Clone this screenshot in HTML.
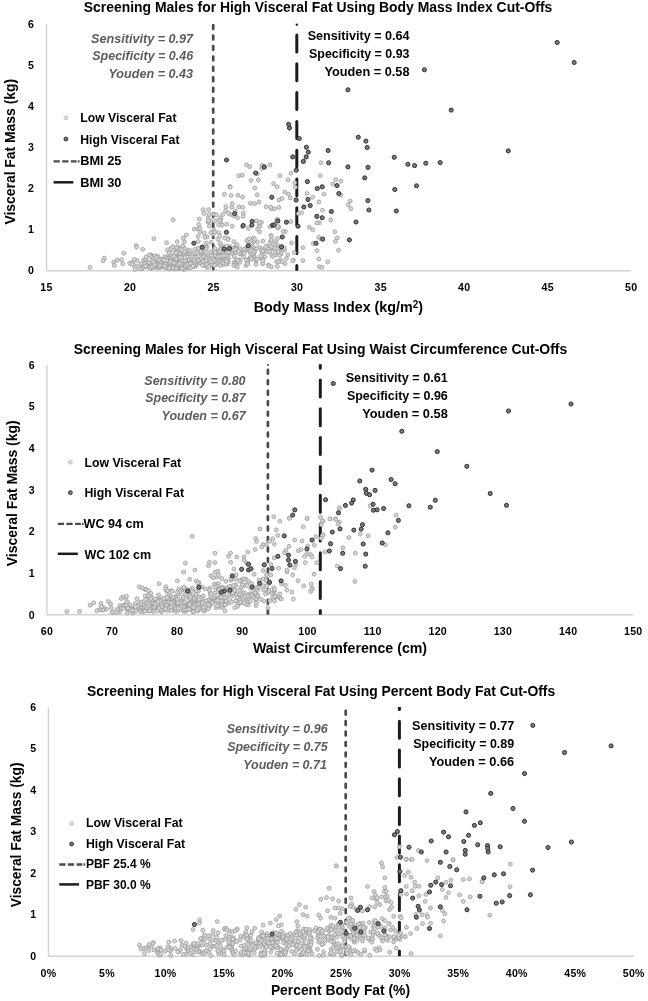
<!DOCTYPE html>
<html lang="en">
<head>
<meta charset="utf-8">
<title>Screening Males for High Visceral Fat</title>
<style>
html,body{margin:0;padding:0;background:#fff;}
body{width:648px;height:1001px;overflow:hidden;}
svg{display:block;will-change:transform;}
svg text{font-family:"Liberation Sans", sans-serif;font-weight:bold;}
</style>
</head>
<body>
<svg width="648" height="1001" viewBox="0 0 648 1001">
<rect width="648" height="1001" fill="#fff"/>
<g id="panel1">
<line x1="46.5" y1="270.7" x2="630.8" y2="270.7" stroke="#d2d2d2" stroke-width="1.4"/>
<line x1="46.5" y1="24.2" x2="46.5" y2="270.7" stroke="#d2d2d2" stroke-width="1.4"/>
<clipPath id="clip1"><rect x="40" y="23.80" width="600" height="246.90"/></clipPath>
<g clip-path="url(#clip1)" fill="none" stroke-linecap="round">
<path d="M213.2 -6.20V-2.40 M213.2 4.25V8.05 M213.2 14.70V18.50 M213.2 25.15V28.95 M213.2 35.60V39.40 M213.2 46.05V49.85 M213.2 56.50V60.30 M213.2 66.95V70.75 M213.2 77.40V81.20 M213.2 87.85V91.65 M213.2 98.30V102.10 M213.2 108.75V112.55 M213.2 119.20V123.00 M213.2 129.65V133.45 M213.2 140.10V143.90 M213.2 150.55V154.35 M213.2 161.00V164.80 M213.2 171.45V175.25 M213.2 181.90V185.70 M213.2 192.35V196.15 M213.2 202.80V206.60 M213.2 213.25V217.05 M213.2 223.70V227.50 M213.2 234.15V237.95 M213.2 244.60V248.40 M213.2 255.05V258.85 M213.2 265.50V269.30 M213.2 275.95V279.75" stroke="#494949" stroke-width="2.7"/>
<path d="M296.8 -22.60V-5.60 M296.8 6.20V23.20 M296.8 35.00V52.00 M296.8 63.80V80.80 M296.8 92.60V109.60 M296.8 121.40V138.40 M296.8 150.20V167.20 M296.8 179.00V196.00 M296.8 207.80V224.80 M296.8 236.60V253.60 M296.8 265.40V282.40 M296.8 294.20V311.20" stroke="#1c1c1c" stroke-width="3.0"/>
</g>
<circle cx="296.8" cy="24.8" r="1.1" fill="#1c1c1c"/>
<g fill="#d6d6d6" stroke="#9c9c9c" stroke-width="0.8">
<circle cx="287.8" cy="254.6" r="1.95"/><circle cx="174.6" cy="269.0" r="1.95"/><circle cx="185.0" cy="263.2" r="1.95"/><circle cx="173.5" cy="260.6" r="1.95"/><circle cx="209.9" cy="265.0" r="1.95"/><circle cx="165.9" cy="264.7" r="1.95"/><circle cx="225.6" cy="253.6" r="1.95"/><circle cx="156.8" cy="266.9" r="1.95"/><circle cx="228.4" cy="238.7" r="1.95"/><circle cx="184.5" cy="264.7" r="1.95"/><circle cx="249.4" cy="258.7" r="1.95"/><circle cx="227.7" cy="239.3" r="1.95"/><circle cx="222.1" cy="258.3" r="1.95"/><circle cx="228.1" cy="262.3" r="1.95"/><circle cx="181.3" cy="264.4" r="1.95"/><circle cx="180.7" cy="264.1" r="1.95"/><circle cx="181.1" cy="263.6" r="1.95"/><circle cx="190.4" cy="260.9" r="1.95"/><circle cx="202.5" cy="246.7" r="1.95"/><circle cx="151.6" cy="255.1" r="1.95"/><circle cx="180.0" cy="266.5" r="1.95"/><circle cx="181.4" cy="261.3" r="1.95"/><circle cx="247.8" cy="263.1" r="1.95"/><circle cx="197.9" cy="260.0" r="1.95"/><circle cx="148.6" cy="267.3" r="1.95"/><circle cx="220.4" cy="252.9" r="1.95"/><circle cx="249.0" cy="250.8" r="1.95"/><circle cx="208.3" cy="259.1" r="1.95"/><circle cx="256.1" cy="261.5" r="1.95"/><circle cx="182.1" cy="259.5" r="1.95"/><circle cx="150.9" cy="255.0" r="1.95"/><circle cx="167.9" cy="263.0" r="1.95"/><circle cx="167.2" cy="264.9" r="1.95"/><circle cx="276.7" cy="261.5" r="1.95"/><circle cx="175.8" cy="259.1" r="1.95"/><circle cx="211.9" cy="254.9" r="1.95"/><circle cx="206.9" cy="246.8" r="1.95"/><circle cx="244.7" cy="250.7" r="1.95"/><circle cx="170.3" cy="265.4" r="1.95"/><circle cx="143.7" cy="260.5" r="1.95"/><circle cx="145.6" cy="259.1" r="1.95"/><circle cx="293.4" cy="260.2" r="1.95"/><circle cx="170.3" cy="264.5" r="1.95"/><circle cx="233.9" cy="263.0" r="1.95"/><circle cx="182.3" cy="264.2" r="1.95"/><circle cx="179.7" cy="251.7" r="1.95"/><circle cx="164.2" cy="262.5" r="1.95"/><circle cx="201.1" cy="253.6" r="1.95"/><circle cx="157.7" cy="256.1" r="1.95"/><circle cx="210.7" cy="252.2" r="1.95"/><circle cx="189.4" cy="267.2" r="1.95"/><circle cx="171.1" cy="257.2" r="1.95"/><circle cx="187.3" cy="261.7" r="1.95"/><circle cx="290.2" cy="198.0" r="1.95"/><circle cx="184.4" cy="241.8" r="1.95"/><circle cx="141.9" cy="268.7" r="1.95"/><circle cx="236.0" cy="259.5" r="1.95"/><circle cx="219.1" cy="254.8" r="1.95"/><circle cx="183.2" cy="257.2" r="1.95"/><circle cx="194.0" cy="266.8" r="1.95"/><circle cx="198.0" cy="259.5" r="1.95"/><circle cx="292.6" cy="260.7" r="1.95"/><circle cx="186.2" cy="263.6" r="1.95"/><circle cx="182.3" cy="246.5" r="1.95"/><circle cx="207.4" cy="262.6" r="1.95"/><circle cx="194.2" cy="255.3" r="1.95"/><circle cx="163.6" cy="264.0" r="1.95"/><circle cx="275.6" cy="241.5" r="1.95"/><circle cx="184.2" cy="263.9" r="1.95"/><circle cx="181.8" cy="267.2" r="1.95"/><circle cx="240.5" cy="254.0" r="1.95"/><circle cx="193.3" cy="266.3" r="1.95"/><circle cx="169.6" cy="259.6" r="1.95"/><circle cx="200.3" cy="263.2" r="1.95"/><circle cx="214.8" cy="250.9" r="1.95"/><circle cx="170.5" cy="264.7" r="1.95"/><circle cx="166.3" cy="266.7" r="1.95"/><circle cx="231.9" cy="253.4" r="1.95"/><circle cx="205.0" cy="265.5" r="1.95"/><circle cx="162.5" cy="263.3" r="1.95"/><circle cx="176.2" cy="261.5" r="1.95"/><circle cx="170.0" cy="258.6" r="1.95"/><circle cx="290.7" cy="221.5" r="1.95"/><circle cx="279.6" cy="251.9" r="1.95"/><circle cx="239.2" cy="260.0" r="1.95"/><circle cx="239.1" cy="260.0" r="1.95"/><circle cx="174.5" cy="265.0" r="1.95"/><circle cx="226.2" cy="256.3" r="1.95"/><circle cx="196.1" cy="265.7" r="1.95"/><circle cx="193.5" cy="266.6" r="1.95"/><circle cx="271.8" cy="255.0" r="1.95"/><circle cx="196.6" cy="261.4" r="1.95"/><circle cx="150.8" cy="267.6" r="1.95"/><circle cx="184.6" cy="248.5" r="1.95"/><circle cx="160.9" cy="265.7" r="1.95"/><circle cx="184.1" cy="267.4" r="1.95"/><circle cx="148.3" cy="265.2" r="1.95"/><circle cx="184.2" cy="263.5" r="1.95"/><circle cx="275.1" cy="254.9" r="1.95"/><circle cx="206.3" cy="243.0" r="1.95"/><circle cx="285.1" cy="263.5" r="1.95"/><circle cx="177.0" cy="253.4" r="1.95"/><circle cx="155.2" cy="266.5" r="1.95"/><circle cx="157.0" cy="267.4" r="1.95"/><circle cx="160.5" cy="262.2" r="1.95"/><circle cx="259.6" cy="231.8" r="1.95"/><circle cx="185.9" cy="267.9" r="1.95"/><circle cx="183.9" cy="263.3" r="1.95"/><circle cx="205.8" cy="260.9" r="1.95"/><circle cx="146.2" cy="261.9" r="1.95"/><circle cx="140.3" cy="266.3" r="1.95"/><circle cx="203.4" cy="257.9" r="1.95"/><circle cx="277.3" cy="266.4" r="1.95"/><circle cx="205.1" cy="254.8" r="1.95"/><circle cx="178.1" cy="258.0" r="1.95"/><circle cx="161.2" cy="259.3" r="1.95"/><circle cx="216.7" cy="264.3" r="1.95"/><circle cx="170.7" cy="263.4" r="1.95"/><circle cx="170.9" cy="255.3" r="1.95"/><circle cx="195.4" cy="249.1" r="1.95"/><circle cx="254.1" cy="255.2" r="1.95"/><circle cx="181.0" cy="265.7" r="1.95"/><circle cx="167.7" cy="265.7" r="1.95"/><circle cx="205.6" cy="264.5" r="1.95"/><circle cx="189.8" cy="260.1" r="1.95"/><circle cx="174.4" cy="263.1" r="1.95"/><circle cx="269.9" cy="226.6" r="1.95"/><circle cx="168.2" cy="263.5" r="1.95"/><circle cx="177.1" cy="263.4" r="1.95"/><circle cx="275.2" cy="244.4" r="1.95"/><circle cx="259.1" cy="225.7" r="1.95"/><circle cx="175.6" cy="263.1" r="1.95"/><circle cx="187.5" cy="253.5" r="1.95"/><circle cx="183.2" cy="257.4" r="1.95"/><circle cx="253.7" cy="240.7" r="1.95"/><circle cx="211.4" cy="263.8" r="1.95"/><circle cx="151.4" cy="256.7" r="1.95"/><circle cx="211.9" cy="264.4" r="1.95"/><circle cx="174.2" cy="264.3" r="1.95"/><circle cx="148.8" cy="262.5" r="1.95"/><circle cx="168.1" cy="263.9" r="1.95"/><circle cx="228.5" cy="258.9" r="1.95"/><circle cx="217.0" cy="255.9" r="1.95"/><circle cx="187.0" cy="261.2" r="1.95"/><circle cx="294.3" cy="252.7" r="1.95"/><circle cx="280.6" cy="260.2" r="1.95"/><circle cx="227.9" cy="257.0" r="1.95"/><circle cx="169.3" cy="269.0" r="1.95"/><circle cx="278.7" cy="261.8" r="1.95"/><circle cx="164.3" cy="262.2" r="1.95"/><circle cx="188.5" cy="259.7" r="1.95"/><circle cx="179.6" cy="267.1" r="1.95"/><circle cx="236.0" cy="263.1" r="1.95"/><circle cx="198.3" cy="256.6" r="1.95"/><circle cx="254.5" cy="257.5" r="1.95"/><circle cx="178.5" cy="263.1" r="1.95"/><circle cx="145.0" cy="266.4" r="1.95"/><circle cx="163.4" cy="266.8" r="1.95"/><circle cx="195.0" cy="262.6" r="1.95"/><circle cx="278.8" cy="227.0" r="1.95"/><circle cx="144.3" cy="263.4" r="1.95"/><circle cx="163.4" cy="259.8" r="1.95"/><circle cx="194.4" cy="253.7" r="1.95"/><circle cx="203.4" cy="254.3" r="1.95"/><circle cx="178.7" cy="268.8" r="1.95"/><circle cx="159.4" cy="266.2" r="1.95"/><circle cx="174.5" cy="266.1" r="1.95"/><circle cx="280.9" cy="254.3" r="1.95"/><circle cx="261.2" cy="257.8" r="1.95"/><circle cx="282.2" cy="261.8" r="1.95"/><circle cx="220.3" cy="265.4" r="1.95"/><circle cx="211.1" cy="242.2" r="1.95"/><circle cx="149.7" cy="266.5" r="1.95"/><circle cx="199.5" cy="261.7" r="1.95"/><circle cx="155.4" cy="255.9" r="1.95"/><circle cx="188.2" cy="250.4" r="1.95"/><circle cx="203.9" cy="265.5" r="1.95"/><circle cx="174.7" cy="251.3" r="1.95"/><circle cx="155.1" cy="265.1" r="1.95"/><circle cx="220.4" cy="249.1" r="1.95"/><circle cx="233.7" cy="265.4" r="1.95"/><circle cx="181.6" cy="261.7" r="1.95"/><circle cx="185.1" cy="262.8" r="1.95"/><circle cx="164.2" cy="264.3" r="1.95"/><circle cx="262.7" cy="263.7" r="1.95"/><circle cx="132.3" cy="262.1" r="1.95"/><circle cx="205.0" cy="254.4" r="1.95"/><circle cx="286.5" cy="258.5" r="1.95"/><circle cx="195.6" cy="257.4" r="1.95"/><circle cx="257.4" cy="242.3" r="1.95"/><circle cx="166.9" cy="267.2" r="1.95"/><circle cx="179.2" cy="267.4" r="1.95"/><circle cx="250.2" cy="259.2" r="1.95"/><circle cx="177.4" cy="265.6" r="1.95"/><circle cx="274.5" cy="250.1" r="1.95"/><circle cx="176.2" cy="258.4" r="1.95"/><circle cx="183.3" cy="257.8" r="1.95"/><circle cx="262.5" cy="257.1" r="1.95"/><circle cx="215.2" cy="255.6" r="1.95"/><circle cx="251.7" cy="249.7" r="1.95"/><circle cx="187.1" cy="264.4" r="1.95"/><circle cx="202.4" cy="265.2" r="1.95"/><circle cx="223.5" cy="258.2" r="1.95"/><circle cx="217.4" cy="262.3" r="1.95"/><circle cx="167.8" cy="266.0" r="1.95"/><circle cx="250.1" cy="257.9" r="1.95"/><circle cx="180.2" cy="267.7" r="1.95"/><circle cx="183.9" cy="269.6" r="1.95"/><circle cx="265.0" cy="256.7" r="1.95"/><circle cx="186.4" cy="266.8" r="1.95"/><circle cx="161.4" cy="259.6" r="1.95"/><circle cx="180.6" cy="259.3" r="1.95"/><circle cx="259.7" cy="247.5" r="1.95"/><circle cx="143.9" cy="266.9" r="1.95"/><circle cx="160.5" cy="266.3" r="1.95"/><circle cx="140.0" cy="268.8" r="1.95"/><circle cx="169.0" cy="265.0" r="1.95"/><circle cx="215.4" cy="261.4" r="1.95"/><circle cx="268.5" cy="265.2" r="1.95"/><circle cx="154.9" cy="262.2" r="1.95"/><circle cx="179.2" cy="265.9" r="1.95"/><circle cx="230.2" cy="246.5" r="1.95"/><circle cx="261.9" cy="258.3" r="1.95"/><circle cx="185.0" cy="260.3" r="1.95"/><circle cx="188.4" cy="253.5" r="1.95"/><circle cx="174.5" cy="260.2" r="1.95"/><circle cx="137.1" cy="260.6" r="1.95"/><circle cx="281.2" cy="252.8" r="1.95"/><circle cx="245.9" cy="265.5" r="1.95"/><circle cx="177.9" cy="267.3" r="1.95"/><circle cx="203.8" cy="256.4" r="1.95"/><circle cx="155.4" cy="266.3" r="1.95"/><circle cx="183.5" cy="261.0" r="1.95"/><circle cx="206.2" cy="258.0" r="1.95"/><circle cx="179.9" cy="266.7" r="1.95"/><circle cx="170.4" cy="248.8" r="1.95"/><circle cx="200.1" cy="262.6" r="1.95"/><circle cx="155.7" cy="263.6" r="1.95"/><circle cx="186.9" cy="264.5" r="1.95"/><circle cx="237.4" cy="261.4" r="1.95"/><circle cx="181.5" cy="256.0" r="1.95"/><circle cx="198.2" cy="251.1" r="1.95"/><circle cx="180.2" cy="263.9" r="1.95"/><circle cx="212.6" cy="258.1" r="1.95"/><circle cx="254.6" cy="251.5" r="1.95"/><circle cx="184.6" cy="258.8" r="1.95"/><circle cx="223.6" cy="264.6" r="1.95"/><circle cx="182.1" cy="263.4" r="1.95"/><circle cx="255.5" cy="259.4" r="1.95"/><circle cx="247.5" cy="264.0" r="1.95"/><circle cx="184.0" cy="253.5" r="1.95"/><circle cx="179.5" cy="253.2" r="1.95"/><circle cx="141.1" cy="263.9" r="1.95"/><circle cx="194.6" cy="261.6" r="1.95"/><circle cx="152.4" cy="259.9" r="1.95"/><circle cx="134.6" cy="259.5" r="1.95"/><circle cx="202.3" cy="252.0" r="1.95"/><circle cx="179.7" cy="266.2" r="1.95"/><circle cx="174.0" cy="264.3" r="1.95"/><circle cx="220.3" cy="261.0" r="1.95"/><circle cx="209.5" cy="256.2" r="1.95"/><circle cx="268.6" cy="265.7" r="1.95"/><circle cx="176.5" cy="257.7" r="1.95"/><circle cx="226.0" cy="261.9" r="1.95"/><circle cx="179.6" cy="262.4" r="1.95"/><circle cx="193.5" cy="263.7" r="1.95"/><circle cx="171.5" cy="266.4" r="1.95"/><circle cx="177.2" cy="250.7" r="1.95"/><circle cx="164.9" cy="256.5" r="1.95"/><circle cx="198.3" cy="228.9" r="1.95"/><circle cx="182.6" cy="246.0" r="1.95"/><circle cx="184.7" cy="266.2" r="1.95"/><circle cx="207.3" cy="236.9" r="1.95"/><circle cx="173.1" cy="259.3" r="1.95"/><circle cx="164.3" cy="266.0" r="1.95"/><circle cx="214.1" cy="260.4" r="1.95"/><circle cx="220.7" cy="244.8" r="1.95"/><circle cx="160.5" cy="265.5" r="1.95"/><circle cx="179.2" cy="264.0" r="1.95"/><circle cx="213.8" cy="229.7" r="1.95"/><circle cx="173.8" cy="263.5" r="1.95"/><circle cx="191.2" cy="255.1" r="1.95"/><circle cx="159.5" cy="267.8" r="1.95"/><circle cx="198.5" cy="256.2" r="1.95"/><circle cx="138.3" cy="266.0" r="1.95"/><circle cx="246.1" cy="259.9" r="1.95"/><circle cx="218.4" cy="257.2" r="1.95"/><circle cx="228.4" cy="253.7" r="1.95"/><circle cx="205.7" cy="247.1" r="1.95"/><circle cx="175.0" cy="261.0" r="1.95"/><circle cx="257.0" cy="259.1" r="1.95"/><circle cx="179.2" cy="264.8" r="1.95"/><circle cx="218.8" cy="232.6" r="1.95"/><circle cx="234.2" cy="256.2" r="1.95"/><circle cx="181.3" cy="259.6" r="1.95"/><circle cx="188.8" cy="253.5" r="1.95"/><circle cx="168.5" cy="261.2" r="1.95"/><circle cx="218.5" cy="259.9" r="1.95"/><circle cx="182.4" cy="257.4" r="1.95"/><circle cx="224.2" cy="258.6" r="1.95"/><circle cx="190.5" cy="263.5" r="1.95"/><circle cx="223.8" cy="258.8" r="1.95"/><circle cx="153.4" cy="264.3" r="1.95"/><circle cx="226.9" cy="255.3" r="1.95"/><circle cx="167.9" cy="257.5" r="1.95"/><circle cx="225.8" cy="252.2" r="1.95"/><circle cx="279.4" cy="255.2" r="1.95"/><circle cx="225.1" cy="259.8" r="1.95"/><circle cx="247.3" cy="240.8" r="1.95"/><circle cx="217.9" cy="251.9" r="1.95"/><circle cx="169.0" cy="258.4" r="1.95"/><circle cx="256.0" cy="264.4" r="1.95"/><circle cx="167.5" cy="259.3" r="1.95"/><circle cx="157.7" cy="262.7" r="1.95"/><circle cx="171.8" cy="258.6" r="1.95"/><circle cx="178.5" cy="249.2" r="1.95"/><circle cx="169.2" cy="253.0" r="1.95"/><circle cx="185.4" cy="258.1" r="1.95"/><circle cx="151.0" cy="268.2" r="1.95"/><circle cx="247.7" cy="263.8" r="1.95"/><circle cx="178.1" cy="263.5" r="1.95"/><circle cx="165.9" cy="261.7" r="1.95"/><circle cx="154.8" cy="267.1" r="1.95"/><circle cx="239.8" cy="262.3" r="1.95"/><circle cx="229.1" cy="252.0" r="1.95"/><circle cx="274.5" cy="247.9" r="1.95"/><circle cx="145.5" cy="266.0" r="1.95"/><circle cx="176.3" cy="252.8" r="1.95"/><circle cx="205.6" cy="262.8" r="1.95"/><circle cx="210.8" cy="261.8" r="1.95"/><circle cx="217.4" cy="258.1" r="1.95"/><circle cx="250.2" cy="252.9" r="1.95"/><circle cx="243.6" cy="256.9" r="1.95"/><circle cx="226.9" cy="259.5" r="1.95"/><circle cx="222.9" cy="257.0" r="1.95"/><circle cx="182.5" cy="263.7" r="1.95"/><circle cx="179.2" cy="259.1" r="1.95"/><circle cx="133.7" cy="265.1" r="1.95"/><circle cx="178.0" cy="257.2" r="1.95"/><circle cx="199.0" cy="260.9" r="1.95"/><circle cx="190.1" cy="254.0" r="1.95"/><circle cx="207.3" cy="267.6" r="1.95"/><circle cx="176.1" cy="259.7" r="1.95"/><circle cx="168.5" cy="264.2" r="1.95"/><circle cx="218.0" cy="256.7" r="1.95"/><circle cx="156.4" cy="257.6" r="1.95"/><circle cx="156.6" cy="264.4" r="1.95"/><circle cx="262.9" cy="263.5" r="1.95"/><circle cx="177.7" cy="247.1" r="1.95"/><circle cx="179.5" cy="266.0" r="1.95"/><circle cx="172.5" cy="256.9" r="1.95"/><circle cx="151.1" cy="265.8" r="1.95"/><circle cx="153.5" cy="267.1" r="1.95"/><circle cx="260.7" cy="255.8" r="1.95"/><circle cx="175.6" cy="259.7" r="1.95"/><circle cx="169.6" cy="266.7" r="1.95"/><circle cx="252.4" cy="245.7" r="1.95"/><circle cx="166.7" cy="258.5" r="1.95"/><circle cx="270.8" cy="248.0" r="1.95"/><circle cx="214.5" cy="265.4" r="1.95"/><circle cx="182.2" cy="267.8" r="1.95"/><circle cx="250.6" cy="257.6" r="1.95"/><circle cx="262.9" cy="260.7" r="1.95"/><circle cx="236.6" cy="265.6" r="1.95"/><circle cx="176.3" cy="258.8" r="1.95"/><circle cx="206.0" cy="260.5" r="1.95"/><circle cx="149.2" cy="255.1" r="1.95"/><circle cx="224.0" cy="246.7" r="1.95"/><circle cx="251.5" cy="259.0" r="1.95"/><circle cx="208.2" cy="217.5" r="1.95"/><circle cx="166.8" cy="260.5" r="1.95"/><circle cx="172.9" cy="246.7" r="1.95"/><circle cx="195.3" cy="265.5" r="1.95"/><circle cx="171.9" cy="267.2" r="1.95"/><circle cx="135.1" cy="269.5" r="1.95"/><circle cx="169.1" cy="266.6" r="1.95"/><circle cx="193.8" cy="264.8" r="1.95"/><circle cx="198.3" cy="241.4" r="1.95"/><circle cx="159.2" cy="267.1" r="1.95"/><circle cx="243.3" cy="213.3" r="1.95"/><circle cx="165.9" cy="267.9" r="1.95"/><circle cx="178.7" cy="263.9" r="1.95"/><circle cx="227.1" cy="264.2" r="1.95"/><circle cx="179.3" cy="263.5" r="1.95"/><circle cx="150.4" cy="268.0" r="1.95"/><circle cx="211.4" cy="255.4" r="1.95"/><circle cx="167.5" cy="249.9" r="1.95"/><circle cx="240.5" cy="252.8" r="1.95"/><circle cx="221.2" cy="256.1" r="1.95"/><circle cx="227.9" cy="249.8" r="1.95"/><circle cx="189.0" cy="268.0" r="1.95"/><circle cx="181.5" cy="265.4" r="1.95"/><circle cx="158.8" cy="259.9" r="1.95"/><circle cx="145.7" cy="259.3" r="1.95"/><circle cx="170.9" cy="266.8" r="1.95"/><circle cx="272.6" cy="256.4" r="1.95"/><circle cx="248.4" cy="228.3" r="1.95"/><circle cx="165.7" cy="264.1" r="1.95"/><circle cx="239.6" cy="253.6" r="1.95"/><circle cx="176.7" cy="247.6" r="1.95"/><circle cx="215.1" cy="252.4" r="1.95"/><circle cx="214.0" cy="214.2" r="1.95"/><circle cx="203.0" cy="261.3" r="1.95"/><circle cx="192.5" cy="254.4" r="1.95"/><circle cx="224.0" cy="255.6" r="1.95"/><circle cx="152.1" cy="267.0" r="1.95"/><circle cx="179.1" cy="257.1" r="1.95"/><circle cx="271.2" cy="266.8" r="1.95"/><circle cx="181.6" cy="264.0" r="1.95"/><circle cx="182.5" cy="260.6" r="1.95"/><circle cx="165.9" cy="267.2" r="1.95"/><circle cx="245.0" cy="248.7" r="1.95"/><circle cx="175.6" cy="262.9" r="1.95"/><circle cx="169.4" cy="267.3" r="1.95"/><circle cx="223.1" cy="262.8" r="1.95"/><circle cx="159.9" cy="265.5" r="1.95"/><circle cx="282.4" cy="246.9" r="1.95"/><circle cx="198.2" cy="260.2" r="1.95"/><circle cx="235.8" cy="250.4" r="1.95"/><circle cx="155.8" cy="264.4" r="1.95"/><circle cx="170.3" cy="261.5" r="1.95"/><circle cx="183.3" cy="268.1" r="1.95"/><circle cx="252.7" cy="253.6" r="1.95"/><circle cx="146.1" cy="257.0" r="1.95"/><circle cx="190.9" cy="258.2" r="1.95"/><circle cx="185.1" cy="260.8" r="1.95"/><circle cx="173.2" cy="267.7" r="1.95"/><circle cx="170.6" cy="261.7" r="1.95"/><circle cx="185.1" cy="257.5" r="1.95"/><circle cx="182.0" cy="268.5" r="1.95"/><circle cx="226.1" cy="263.5" r="1.95"/><circle cx="154.2" cy="264.9" r="1.95"/><circle cx="153.6" cy="262.0" r="1.95"/><circle cx="178.2" cy="264.8" r="1.95"/><circle cx="169.2" cy="268.6" r="1.95"/><circle cx="164.4" cy="266.0" r="1.95"/><circle cx="176.2" cy="268.6" r="1.95"/><circle cx="184.5" cy="251.6" r="1.95"/><circle cx="174.1" cy="262.9" r="1.95"/><circle cx="206.7" cy="264.4" r="1.95"/><circle cx="174.1" cy="256.2" r="1.95"/><circle cx="193.1" cy="266.3" r="1.95"/><circle cx="208.9" cy="266.7" r="1.95"/><circle cx="191.9" cy="256.6" r="1.95"/><circle cx="190.1" cy="267.8" r="1.95"/><circle cx="291.4" cy="243.0" r="1.95"/><circle cx="180.2" cy="257.5" r="1.95"/><circle cx="179.7" cy="263.6" r="1.95"/><circle cx="237.2" cy="266.8" r="1.95"/><circle cx="244.1" cy="253.1" r="1.95"/><circle cx="229.9" cy="248.8" r="1.95"/><circle cx="277.7" cy="228.0" r="1.95"/><circle cx="237.9" cy="260.2" r="1.95"/><circle cx="226.6" cy="261.5" r="1.95"/><circle cx="164.2" cy="260.2" r="1.95"/><circle cx="266.8" cy="246.1" r="1.95"/><circle cx="270.0" cy="164.9" r="1.95"/><circle cx="285.4" cy="231.5" r="1.95"/><circle cx="257.2" cy="194.7" r="1.95"/><circle cx="259.0" cy="202.0" r="1.95"/><circle cx="206.3" cy="248.6" r="1.95"/><circle cx="211.0" cy="221.2" r="1.95"/><circle cx="242.7" cy="207.4" r="1.95"/><circle cx="233.7" cy="241.6" r="1.95"/><circle cx="198.5" cy="248.3" r="1.95"/><circle cx="281.7" cy="247.1" r="1.95"/><circle cx="238.7" cy="175.8" r="1.95"/><circle cx="205.5" cy="252.0" r="1.95"/><circle cx="258.4" cy="180.0" r="1.95"/><circle cx="198.2" cy="236.4" r="1.95"/><circle cx="269.1" cy="251.5" r="1.95"/><circle cx="259.8" cy="226.3" r="1.95"/><circle cx="249.7" cy="166.7" r="1.95"/><circle cx="190.5" cy="250.8" r="1.95"/><circle cx="262.8" cy="241.2" r="1.95"/><circle cx="235.4" cy="210.9" r="1.95"/><circle cx="278.1" cy="245.8" r="1.95"/><circle cx="248.3" cy="245.4" r="1.95"/><circle cx="243.1" cy="216.4" r="1.95"/><circle cx="266.4" cy="251.6" r="1.95"/><circle cx="261.4" cy="222.4" r="1.95"/><circle cx="222.1" cy="251.5" r="1.95"/><circle cx="232.8" cy="250.1" r="1.95"/><circle cx="278.9" cy="207.4" r="1.95"/><circle cx="232.1" cy="226.3" r="1.95"/><circle cx="254.3" cy="251.6" r="1.95"/><circle cx="271.1" cy="235.4" r="1.95"/><circle cx="222.9" cy="249.7" r="1.95"/><circle cx="250.4" cy="203.3" r="1.95"/><circle cx="288.0" cy="179.9" r="1.95"/><circle cx="250.9" cy="250.9" r="1.95"/><circle cx="277.5" cy="238.5" r="1.95"/><circle cx="231.1" cy="195.4" r="1.95"/><circle cx="221.9" cy="248.5" r="1.95"/><circle cx="256.5" cy="220.8" r="1.95"/><circle cx="283.1" cy="231.5" r="1.95"/><circle cx="221.0" cy="219.0" r="1.95"/><circle cx="228.8" cy="249.7" r="1.95"/><circle cx="247.0" cy="240.2" r="1.95"/><circle cx="284.4" cy="249.9" r="1.95"/><circle cx="271.5" cy="208.7" r="1.95"/><circle cx="218.6" cy="251.7" r="1.95"/><circle cx="284.3" cy="248.1" r="1.95"/><circle cx="214.8" cy="248.4" r="1.95"/><circle cx="259.5" cy="222.6" r="1.95"/><circle cx="262.0" cy="165.4" r="1.95"/><circle cx="235.5" cy="247.0" r="1.95"/><circle cx="271.6" cy="246.8" r="1.95"/><circle cx="261.5" cy="249.6" r="1.95"/><circle cx="229.0" cy="251.8" r="1.95"/><circle cx="265.0" cy="248.6" r="1.95"/><circle cx="220.5" cy="249.0" r="1.95"/><circle cx="235.6" cy="252.1" r="1.95"/><circle cx="233.5" cy="215.7" r="1.95"/><circle cx="265.7" cy="246.7" r="1.95"/><circle cx="257.4" cy="173.9" r="1.95"/><circle cx="253.4" cy="237.8" r="1.95"/><circle cx="200.1" cy="231.7" r="1.95"/><circle cx="269.4" cy="251.4" r="1.95"/><circle cx="225.8" cy="206.6" r="1.95"/><circle cx="254.7" cy="239.5" r="1.95"/><circle cx="222.9" cy="251.5" r="1.95"/><circle cx="254.5" cy="203.6" r="1.95"/><circle cx="282.0" cy="198.5" r="1.95"/><circle cx="242.6" cy="197.1" r="1.95"/><circle cx="213.1" cy="234.2" r="1.95"/><circle cx="263.3" cy="252.0" r="1.95"/><circle cx="244.2" cy="249.3" r="1.95"/><circle cx="235.3" cy="247.3" r="1.95"/><circle cx="237.6" cy="250.2" r="1.95"/><circle cx="261.8" cy="251.9" r="1.95"/><circle cx="255.7" cy="248.6" r="1.95"/><circle cx="251.4" cy="243.8" r="1.95"/><circle cx="242.5" cy="226.8" r="1.95"/><circle cx="220.2" cy="251.1" r="1.95"/><circle cx="271.5" cy="236.5" r="1.95"/><circle cx="225.6" cy="210.6" r="1.95"/><circle cx="277.2" cy="186.8" r="1.95"/><circle cx="262.9" cy="251.1" r="1.95"/><circle cx="277.5" cy="219.3" r="1.95"/><circle cx="276.2" cy="220.8" r="1.95"/><circle cx="198.7" cy="224.6" r="1.95"/><circle cx="221.5" cy="224.1" r="1.95"/><circle cx="239.9" cy="248.6" r="1.95"/><circle cx="222.4" cy="225.1" r="1.95"/><circle cx="237.6" cy="217.7" r="1.95"/><circle cx="280.0" cy="247.7" r="1.95"/><circle cx="219.9" cy="243.1" r="1.95"/><circle cx="261.8" cy="168.5" r="1.95"/><circle cx="224.9" cy="238.0" r="1.95"/><circle cx="235.6" cy="248.2" r="1.95"/><circle cx="237.9" cy="195.3" r="1.95"/><circle cx="216.4" cy="214.8" r="1.95"/><circle cx="270.7" cy="207.2" r="1.95"/><circle cx="236.9" cy="249.4" r="1.95"/><circle cx="278.1" cy="251.6" r="1.95"/><circle cx="249.4" cy="238.8" r="1.95"/><circle cx="224.5" cy="194.3" r="1.95"/><circle cx="230.4" cy="214.3" r="1.95"/><circle cx="274.3" cy="208.8" r="1.95"/><circle cx="222.7" cy="214.5" r="1.95"/><circle cx="230.1" cy="186.5" r="1.95"/><circle cx="214.9" cy="232.1" r="1.95"/><circle cx="257.5" cy="229.1" r="1.95"/><circle cx="225.1" cy="247.6" r="1.95"/><circle cx="263.9" cy="166.1" r="1.95"/><circle cx="278.9" cy="199.9" r="1.95"/><circle cx="231.7" cy="207.3" r="1.95"/><circle cx="237.0" cy="244.5" r="1.95"/><circle cx="266.1" cy="206.7" r="1.95"/><circle cx="235.1" cy="249.6" r="1.95"/><circle cx="217.8" cy="239.1" r="1.95"/><circle cx="270.6" cy="241.3" r="1.95"/><circle cx="256.5" cy="248.6" r="1.95"/><circle cx="238.9" cy="206.9" r="1.95"/><circle cx="251.0" cy="180.5" r="1.95"/><circle cx="270.2" cy="242.9" r="1.95"/><circle cx="204.8" cy="237.4" r="1.95"/><circle cx="273.5" cy="183.6" r="1.95"/><circle cx="200.6" cy="251.4" r="1.95"/><circle cx="226.9" cy="246.3" r="1.95"/><circle cx="238.6" cy="251.4" r="1.95"/><circle cx="242.2" cy="175.2" r="1.95"/><circle cx="220.3" cy="217.9" r="1.95"/><circle cx="210.7" cy="252.0" r="1.95"/><circle cx="246.5" cy="164.8" r="1.95"/><circle cx="230.2" cy="187.3" r="1.95"/><circle cx="208.0" cy="221.9" r="1.95"/><circle cx="254.8" cy="187.9" r="1.95"/><circle cx="249.8" cy="245.4" r="1.95"/><circle cx="271.4" cy="240.1" r="1.95"/><circle cx="263.9" cy="166.7" r="1.95"/><circle cx="277.7" cy="226.3" r="1.95"/><circle cx="232.3" cy="203.5" r="1.95"/><circle cx="208.5" cy="220.6" r="1.95"/><circle cx="104.4" cy="258.2" r="1.95"/><circle cx="103.0" cy="260.8" r="1.95"/><circle cx="113.6" cy="262.2" r="1.95"/><circle cx="114.4" cy="265.6" r="1.95"/><circle cx="117.0" cy="260.2" r="1.95"/><circle cx="121.5" cy="259.6" r="1.95"/><circle cx="123.7" cy="253.2" r="1.95"/><circle cx="122.7" cy="263.8" r="1.95"/><circle cx="129.7" cy="263.2" r="1.95"/><circle cx="132.1" cy="264.2" r="1.95"/><circle cx="136.1" cy="245.5" r="1.95"/><circle cx="136.5" cy="247.2" r="1.95"/><circle cx="142.7" cy="249.2" r="1.95"/><circle cx="153.8" cy="238.7" r="1.95"/><circle cx="173.2" cy="219.7" r="1.95"/><circle cx="166.6" cy="242.7" r="1.95"/><circle cx="177.2" cy="241.7" r="1.95"/><circle cx="183.2" cy="238.1" r="1.95"/><circle cx="186.3" cy="235.1" r="1.95"/><circle cx="194.3" cy="229.1" r="1.95"/><circle cx="199.9" cy="228.1" r="1.95"/><circle cx="199.3" cy="219.1" r="1.95"/><circle cx="203.3" cy="209.6" r="1.95"/><circle cx="208.7" cy="209.6" r="1.95"/><circle cx="204.3" cy="213.5" r="1.95"/><circle cx="209.3" cy="214.5" r="1.95"/><circle cx="204.3" cy="233.1" r="1.95"/><circle cx="209.3" cy="226.1" r="1.95"/><circle cx="216.0" cy="220.7" r="1.95"/><circle cx="219.8" cy="220.1" r="1.95"/><circle cx="218.8" cy="225.1" r="1.95"/><circle cx="211.0" cy="232.5" r="1.95"/><circle cx="219.8" cy="236.1" r="1.95"/><circle cx="228.4" cy="213.1" r="1.95"/><circle cx="226.8" cy="224.1" r="1.95"/><circle cx="90.0" cy="267.4" r="1.95"/><circle cx="320.9" cy="162.7" r="1.95"/><circle cx="320.3" cy="175.6" r="1.95"/><circle cx="335.7" cy="179.6" r="1.95"/><circle cx="341.0" cy="181.2" r="1.95"/><circle cx="332.7" cy="184.0" r="1.95"/><circle cx="307.0" cy="193.5" r="1.95"/><circle cx="312.6" cy="197.2" r="1.95"/><circle cx="324.0" cy="194.1" r="1.95"/><circle cx="341.0" cy="195.1" r="1.95"/><circle cx="350.2" cy="201.2" r="1.95"/><circle cx="348.1" cy="204.9" r="1.95"/><circle cx="350.9" cy="208.6" r="1.95"/><circle cx="318.8" cy="201.9" r="1.95"/><circle cx="322.5" cy="210.2" r="1.95"/><circle cx="301.5" cy="212.7" r="1.95"/><circle cx="298.4" cy="213.6" r="1.95"/><circle cx="330.8" cy="219.8" r="1.95"/><circle cx="319.4" cy="222.8" r="1.95"/><circle cx="316.9" cy="222.8" r="1.95"/><circle cx="309.2" cy="227.2" r="1.95"/><circle cx="312.6" cy="229.6" r="1.95"/><circle cx="334.8" cy="231.8" r="1.95"/><circle cx="337.3" cy="238.0" r="1.95"/><circle cx="335.4" cy="241.4" r="1.95"/><circle cx="318.8" cy="237.3" r="1.95"/><circle cx="320.9" cy="238.9" r="1.95"/><circle cx="313.2" cy="243.5" r="1.95"/><circle cx="316.9" cy="250.6" r="1.95"/><circle cx="338.5" cy="250.3" r="1.95"/><circle cx="303.0" cy="247.5" r="1.95"/><circle cx="318.8" cy="259.0" r="1.95"/><circle cx="303.0" cy="260.5" r="1.95"/><circle cx="327.7" cy="262.0" r="1.95"/><circle cx="319.4" cy="266.7" r="1.95"/><circle cx="321.9" cy="267.3" r="1.95"/><circle cx="279.9" cy="175.6" r="1.95"/><circle cx="291.0" cy="173.1" r="1.95"/><circle cx="294.7" cy="182.7" r="1.95"/><circle cx="295.3" cy="187.3" r="1.95"/><circle cx="284.8" cy="192.0" r="1.95"/><circle cx="288.5" cy="194.1" r="1.95"/>
</g>
<g fill="#7b7b7b" stroke="#2e2e2e" stroke-width="1">
<circle cx="255.6" cy="173.0" r="2.05"/><circle cx="296.3" cy="170.2" r="2.05"/><circle cx="307.4" cy="181.6" r="2.05"/><circle cx="317.3" cy="188.5" r="2.05"/><circle cx="322.2" cy="186.8" r="2.05"/><circle cx="337.0" cy="185.6" r="2.05"/><circle cx="338.8" cy="193.5" r="2.05"/><circle cx="271.8" cy="197.3" r="2.05"/><circle cx="296.1" cy="200.1" r="2.05"/><circle cx="308.0" cy="199.5" r="2.05"/><circle cx="303.8" cy="207.0" r="2.05"/><circle cx="310.2" cy="205.5" r="2.05"/><circle cx="331.4" cy="211.5" r="2.05"/><circle cx="234.7" cy="213.6" r="2.05"/><circle cx="316.8" cy="216.4" r="2.05"/><circle cx="322.2" cy="217.7" r="2.05"/><circle cx="356.0" cy="222.0" r="2.05"/><circle cx="277.9" cy="221.0" r="2.05"/><circle cx="286.4" cy="222.2" r="2.05"/><circle cx="252.2" cy="221.4" r="2.05"/><circle cx="251.8" cy="225.2" r="2.05"/><circle cx="243.2" cy="225.5" r="2.05"/><circle cx="272.5" cy="225.3" r="2.05"/><circle cx="274.0" cy="225.0" r="2.05"/><circle cx="298.0" cy="226.2" r="2.05"/><circle cx="226.4" cy="232.3" r="2.05"/><circle cx="282.3" cy="237.0" r="2.05"/><circle cx="322.7" cy="239.1" r="2.05"/><circle cx="349.4" cy="239.9" r="2.05"/><circle cx="316.0" cy="243.3" r="2.05"/><circle cx="202.2" cy="247.3" r="2.05"/><circle cx="224.2" cy="249.1" r="2.05"/><circle cx="229.5" cy="248.5" r="2.05"/><circle cx="248.2" cy="245.8" r="2.05"/><circle cx="281.5" cy="246.9" r="2.05"/><circle cx="193.9" cy="243.2" r="2.05"/><circle cx="226.5" cy="160.0" r="2.05"/><circle cx="264.3" cy="167.1" r="2.05"/><circle cx="347.9" cy="89.8" r="2.05"/><circle cx="424.4" cy="69.8" r="2.05"/><circle cx="288.6" cy="124.3" r="2.05"/><circle cx="289.5" cy="128.0" r="2.05"/><circle cx="299.3" cy="138.6" r="2.05"/><circle cx="306.4" cy="147.2" r="2.05"/><circle cx="308.3" cy="152.1" r="2.05"/><circle cx="306.2" cy="156.9" r="2.05"/><circle cx="303.4" cy="161.4" r="2.05"/><circle cx="292.7" cy="156.9" r="2.05"/><circle cx="328.1" cy="150.5" r="2.05"/><circle cx="328.6" cy="162.8" r="2.05"/><circle cx="358.3" cy="137.2" r="2.05"/><circle cx="365.9" cy="141.1" r="2.05"/><circle cx="367.2" cy="147.5" r="2.05"/><circle cx="347.9" cy="166.9" r="2.05"/><circle cx="368.0" cy="167.4" r="2.05"/><circle cx="394.2" cy="157.3" r="2.05"/><circle cx="407.9" cy="164.3" r="2.05"/><circle cx="414.6" cy="165.6" r="2.05"/><circle cx="425.8" cy="163.3" r="2.05"/><circle cx="440.2" cy="162.6" r="2.05"/><circle cx="364.7" cy="177.9" r="2.05"/><circle cx="416.5" cy="185.8" r="2.05"/><circle cx="394.8" cy="189.5" r="2.05"/><circle cx="367.9" cy="200.6" r="2.05"/><circle cx="368.9" cy="210.0" r="2.05"/><circle cx="396.3" cy="211.0" r="2.05"/><circle cx="557.2" cy="42.5" r="2.05"/><circle cx="574.2" cy="62.5" r="2.05"/><circle cx="451.2" cy="110.1" r="2.05"/><circle cx="508.3" cy="150.9" r="2.05"/>
</g>
<text x="83.80" y="12.25" font-size="14.6" fill="#000" textLength="468.50" lengthAdjust="spacingAndGlyphs">Screening Males for High Visceral Fat Using Body Mass Index Cut-Offs</text>
<text x="46.50" y="290.6" font-size="10.6" text-anchor="middle" letter-spacing="0.25">15</text>
<text x="130.03" y="290.6" font-size="10.6" text-anchor="middle" letter-spacing="0.25">20</text>
<text x="213.57" y="290.6" font-size="10.6" text-anchor="middle" letter-spacing="0.25">25</text>
<text x="297.11" y="290.6" font-size="10.6" text-anchor="middle" letter-spacing="0.25">30</text>
<text x="380.64" y="290.6" font-size="10.6" text-anchor="middle" letter-spacing="0.25">35</text>
<text x="464.18" y="290.6" font-size="10.6" text-anchor="middle" letter-spacing="0.25">40</text>
<text x="547.71" y="290.6" font-size="10.6" text-anchor="middle" letter-spacing="0.25">45</text>
<text x="631.25" y="290.6" font-size="10.6" text-anchor="middle" letter-spacing="0.25">50</text>
<text x="33.8" y="274.00" font-size="10.6" text-anchor="end">0</text>
<text x="33.8" y="232.92" font-size="10.6" text-anchor="end">1</text>
<text x="33.8" y="191.83" font-size="10.6" text-anchor="end">2</text>
<text x="33.8" y="150.75" font-size="10.6" text-anchor="end">3</text>
<text x="33.8" y="109.67" font-size="10.6" text-anchor="end">4</text>
<text x="33.8" y="68.58" font-size="10.6" text-anchor="end">5</text>
<text x="33.8" y="27.50" font-size="10.6" text-anchor="end">6</text>
<text x="253.80" y="311.50" font-size="14.4" fill="#000" textLength="169.20" lengthAdjust="spacingAndGlyphs">Body Mass Index (kg/m<tspan dy="-4.0" font-size="10">2</tspan><tspan dy="4.0">)</tspan></text>
<text transform="translate(14.80,224.50) rotate(-90)" x="0" y="0" font-size="15.4" textLength="145.60" lengthAdjust="spacingAndGlyphs">Visceral Fat Mass (kg)</text>
<text x="91.10" y="42.70" font-size="12.1" fill="#5c5c5c" font-style="italic" textLength="102.00" lengthAdjust="spacingAndGlyphs">Sensitivity = 0.97</text>
<text x="92.30" y="60.20" font-size="12.1" fill="#5c5c5c" font-style="italic" textLength="100.80" lengthAdjust="spacingAndGlyphs">Specificity = 0.46</text>
<text x="108.40" y="78.00" font-size="12.1" fill="#5c5c5c" font-style="italic" textLength="84.70" lengthAdjust="spacingAndGlyphs">Youden = 0.43</text>
<text x="307.70" y="40.40" font-size="12.1" fill="#000" textLength="101.80" lengthAdjust="spacingAndGlyphs">Sensitivity = 0.64</text>
<text x="309.10" y="57.70" font-size="12.1" fill="#000" textLength="100.40" lengthAdjust="spacingAndGlyphs">Specificity = 0.93</text>
<text x="324.40" y="75.50" font-size="12.1" fill="#000" textLength="85.10" lengthAdjust="spacingAndGlyphs">Youden = 0.58</text>
<circle cx="65.9" cy="117.8" r="1.9" fill="#e4e4e4" stroke="#b0b0b0" stroke-width="0.8"/>
<circle cx="65.9" cy="139.0" r="1.9" fill="#7b7b7b" stroke="#2e2e2e" stroke-width="1"/>
<path d="M53.6 161.3h6.2M62.2 161.3h6.2M70.9 161.3h5.7M77.8 161.3h1.7" stroke="#494949" stroke-width="2.3" fill="none"/>
<line x1="53.6" y1="182.3" x2="73.3" y2="182.3" stroke="#1c1c1c" stroke-width="2.5"/>
<text x="80.20" y="122.20" font-size="12.1" fill="#000" textLength="96.30" lengthAdjust="spacingAndGlyphs">Low Visceral Fat</text>
<text x="80.20" y="143.70" font-size="12.1" fill="#000" textLength="99.30" lengthAdjust="spacingAndGlyphs">High Visceral Fat</text>
<text x="80.20" y="165.40" font-size="12.1" fill="#000" textLength="41.30" lengthAdjust="spacingAndGlyphs">BMI 25</text>
<text x="80.20" y="187.30" font-size="12.1" fill="#000" textLength="41.30" lengthAdjust="spacingAndGlyphs">BMI 30</text>
</g>
<g id="panel2">
<line x1="46.9" y1="614.8" x2="633.0" y2="614.8" stroke="#d2d2d2" stroke-width="1.4"/>
<line x1="46.9" y1="364.7" x2="46.9" y2="614.8" stroke="#d2d2d2" stroke-width="1.4"/>
<clipPath id="clip2"><rect x="40" y="364.30" width="600" height="250.50"/></clipPath>
<g clip-path="url(#clip2)" fill="none" stroke-linecap="round">
<path d="M267.9 338.60V342.40 M267.9 349.05V352.85 M267.9 359.50V363.30 M267.9 369.95V373.75 M267.9 380.40V384.20 M267.9 390.85V394.65 M267.9 401.30V405.10 M267.9 411.75V415.55 M267.9 422.20V426.00 M267.9 432.65V436.45 M267.9 443.10V446.90 M267.9 453.55V457.35 M267.9 464.00V467.80 M267.9 474.45V478.25 M267.9 484.90V488.70 M267.9 495.35V499.15 M267.9 505.80V509.60 M267.9 516.25V520.05 M267.9 526.70V530.50 M267.9 537.15V540.95 M267.9 547.60V551.40 M267.9 558.05V561.85 M267.9 568.50V572.30 M267.9 578.95V582.75 M267.9 589.40V593.20 M267.9 599.85V603.65 M267.9 610.30V614.10 M267.9 620.75V624.55" stroke="#494949" stroke-width="2.7"/>
<path d="M320.3 322.40V339.40 M320.3 351.20V368.20 M320.3 380.00V397.00 M320.3 408.80V425.80 M320.3 437.60V454.60 M320.3 466.40V483.40 M320.3 495.20V512.20 M320.3 524.00V541.00 M320.3 552.80V569.80 M320.3 581.60V598.60 M320.3 610.40V627.40 M320.3 639.20V656.20" stroke="#1c1c1c" stroke-width="3.0"/>
</g>
<circle cx="267.9" cy="365.0" r="1.0" fill="#494949"/>
<g fill="#d6d6d6" stroke="#9c9c9c" stroke-width="0.8">
<circle cx="186.5" cy="609.3" r="1.95"/><circle cx="250.2" cy="593.7" r="1.95"/><circle cx="170.1" cy="608.8" r="1.95"/><circle cx="241.1" cy="602.8" r="1.95"/><circle cx="224.9" cy="601.2" r="1.95"/><circle cx="191.8" cy="603.3" r="1.95"/><circle cx="222.8" cy="587.4" r="1.95"/><circle cx="146.8" cy="600.2" r="1.95"/><circle cx="231.7" cy="579.1" r="1.95"/><circle cx="274.5" cy="601.1" r="1.95"/><circle cx="293.3" cy="599.1" r="1.95"/><circle cx="163.7" cy="603.0" r="1.95"/><circle cx="248.2" cy="581.4" r="1.95"/><circle cx="210.3" cy="593.2" r="1.95"/><circle cx="145.6" cy="606.6" r="1.95"/><circle cx="180.6" cy="603.7" r="1.95"/><circle cx="153.8" cy="606.6" r="1.95"/><circle cx="195.9" cy="602.9" r="1.95"/><circle cx="187.0" cy="607.9" r="1.95"/><circle cx="223.2" cy="602.0" r="1.95"/><circle cx="144.8" cy="589.3" r="1.95"/><circle cx="166.9" cy="607.0" r="1.95"/><circle cx="111.3" cy="607.8" r="1.95"/><circle cx="147.2" cy="609.2" r="1.95"/><circle cx="231.5" cy="588.1" r="1.95"/><circle cx="160.2" cy="602.0" r="1.95"/><circle cx="214.2" cy="599.4" r="1.95"/><circle cx="151.6" cy="603.6" r="1.95"/><circle cx="127.3" cy="606.4" r="1.95"/><circle cx="190.9" cy="608.2" r="1.95"/><circle cx="106.5" cy="609.1" r="1.95"/><circle cx="177.3" cy="600.0" r="1.95"/><circle cx="209.9" cy="588.1" r="1.95"/><circle cx="232.4" cy="594.7" r="1.95"/><circle cx="133.8" cy="608.6" r="1.95"/><circle cx="220.3" cy="591.1" r="1.95"/><circle cx="254.5" cy="591.8" r="1.95"/><circle cx="141.8" cy="609.0" r="1.95"/><circle cx="205.2" cy="588.9" r="1.95"/><circle cx="246.0" cy="579.3" r="1.95"/><circle cx="139.0" cy="608.8" r="1.95"/><circle cx="220.9" cy="593.5" r="1.95"/><circle cx="238.1" cy="604.0" r="1.95"/><circle cx="224.9" cy="610.8" r="1.95"/><circle cx="170.0" cy="604.0" r="1.95"/><circle cx="175.9" cy="596.9" r="1.95"/><circle cx="181.3" cy="602.9" r="1.95"/><circle cx="228.4" cy="603.0" r="1.95"/><circle cx="273.2" cy="593.3" r="1.95"/><circle cx="223.7" cy="594.2" r="1.95"/><circle cx="172.8" cy="603.4" r="1.95"/><circle cx="207.5" cy="602.9" r="1.95"/><circle cx="312.2" cy="588.4" r="1.95"/><circle cx="190.3" cy="590.8" r="1.95"/><circle cx="218.4" cy="583.5" r="1.95"/><circle cx="127.3" cy="608.9" r="1.95"/><circle cx="192.4" cy="588.5" r="1.95"/><circle cx="156.5" cy="606.0" r="1.95"/><circle cx="294.4" cy="567.6" r="1.95"/><circle cx="214.2" cy="598.8" r="1.95"/><circle cx="256.1" cy="605.6" r="1.95"/><circle cx="156.8" cy="608.1" r="1.95"/><circle cx="197.3" cy="600.9" r="1.95"/><circle cx="102.8" cy="609.3" r="1.95"/><circle cx="179.1" cy="594.3" r="1.95"/><circle cx="167.5" cy="605.9" r="1.95"/><circle cx="155.2" cy="600.5" r="1.95"/><circle cx="263.7" cy="601.0" r="1.95"/><circle cx="218.9" cy="588.1" r="1.95"/><circle cx="267.2" cy="592.6" r="1.95"/><circle cx="278.2" cy="597.0" r="1.95"/><circle cx="210.2" cy="601.6" r="1.95"/><circle cx="184.7" cy="590.5" r="1.95"/><circle cx="195.2" cy="604.9" r="1.95"/><circle cx="265.1" cy="579.2" r="1.95"/><circle cx="178.8" cy="588.9" r="1.95"/><circle cx="280.7" cy="598.7" r="1.95"/><circle cx="181.7" cy="589.8" r="1.95"/><circle cx="165.9" cy="586.7" r="1.95"/><circle cx="192.6" cy="596.4" r="1.95"/><circle cx="209.6" cy="605.3" r="1.95"/><circle cx="190.8" cy="605.1" r="1.95"/><circle cx="180.0" cy="591.6" r="1.95"/><circle cx="236.7" cy="594.6" r="1.95"/><circle cx="215.1" cy="572.3" r="1.95"/><circle cx="197.8" cy="602.6" r="1.95"/><circle cx="240.4" cy="597.4" r="1.95"/><circle cx="146.1" cy="589.6" r="1.95"/><circle cx="150.8" cy="604.6" r="1.95"/><circle cx="223.6" cy="598.0" r="1.95"/><circle cx="223.1" cy="606.3" r="1.95"/><circle cx="221.0" cy="607.4" r="1.95"/><circle cx="230.8" cy="580.3" r="1.95"/><circle cx="217.0" cy="577.1" r="1.95"/><circle cx="209.6" cy="604.5" r="1.95"/><circle cx="177.3" cy="592.3" r="1.95"/><circle cx="103.5" cy="608.5" r="1.95"/><circle cx="139.2" cy="586.7" r="1.95"/><circle cx="127.4" cy="613.0" r="1.95"/><circle cx="241.4" cy="579.8" r="1.95"/><circle cx="156.1" cy="607.0" r="1.95"/><circle cx="127.9" cy="609.2" r="1.95"/><circle cx="229.7" cy="593.6" r="1.95"/><circle cx="181.9" cy="607.0" r="1.95"/><circle cx="247.7" cy="552.1" r="1.95"/><circle cx="270.0" cy="600.8" r="1.95"/><circle cx="201.4" cy="605.6" r="1.95"/><circle cx="177.3" cy="600.1" r="1.95"/><circle cx="212.3" cy="597.7" r="1.95"/><circle cx="172.2" cy="599.1" r="1.95"/><circle cx="124.6" cy="604.5" r="1.95"/><circle cx="246.5" cy="600.4" r="1.95"/><circle cx="161.7" cy="598.8" r="1.95"/><circle cx="174.3" cy="607.0" r="1.95"/><circle cx="244.2" cy="585.6" r="1.95"/><circle cx="139.7" cy="611.4" r="1.95"/><circle cx="208.0" cy="607.6" r="1.95"/><circle cx="139.6" cy="607.9" r="1.95"/><circle cx="173.5" cy="600.6" r="1.95"/><circle cx="310.6" cy="591.6" r="1.95"/><circle cx="281.3" cy="598.8" r="1.95"/><circle cx="198.7" cy="587.4" r="1.95"/><circle cx="122.7" cy="596.9" r="1.95"/><circle cx="190.9" cy="599.7" r="1.95"/><circle cx="220.5" cy="601.4" r="1.95"/><circle cx="161.5" cy="611.9" r="1.95"/><circle cx="127.2" cy="601.9" r="1.95"/><circle cx="120.0" cy="611.6" r="1.95"/><circle cx="168.0" cy="607.8" r="1.95"/><circle cx="154.6" cy="609.7" r="1.95"/><circle cx="166.6" cy="591.0" r="1.95"/><circle cx="234.4" cy="591.9" r="1.95"/><circle cx="162.7" cy="604.0" r="1.95"/><circle cx="210.0" cy="604.7" r="1.95"/><circle cx="144.0" cy="605.3" r="1.95"/><circle cx="161.1" cy="608.5" r="1.95"/><circle cx="190.7" cy="602.1" r="1.95"/><circle cx="149.0" cy="593.4" r="1.95"/><circle cx="209.5" cy="600.3" r="1.95"/><circle cx="233.9" cy="569.1" r="1.95"/><circle cx="193.0" cy="611.7" r="1.95"/><circle cx="138.9" cy="607.5" r="1.95"/><circle cx="199.1" cy="582.7" r="1.95"/><circle cx="221.0" cy="599.4" r="1.95"/><circle cx="239.5" cy="599.5" r="1.95"/><circle cx="248.2" cy="604.9" r="1.95"/><circle cx="281.5" cy="583.7" r="1.95"/><circle cx="241.5" cy="595.2" r="1.95"/><circle cx="132.3" cy="608.5" r="1.95"/><circle cx="194.4" cy="599.1" r="1.95"/><circle cx="198.9" cy="596.6" r="1.95"/><circle cx="167.8" cy="610.8" r="1.95"/><circle cx="172.4" cy="609.8" r="1.95"/><circle cx="183.1" cy="604.5" r="1.95"/><circle cx="195.1" cy="604.6" r="1.95"/><circle cx="227.6" cy="587.8" r="1.95"/><circle cx="231.4" cy="589.7" r="1.95"/><circle cx="235.6" cy="578.8" r="1.95"/><circle cx="198.2" cy="610.7" r="1.95"/><circle cx="165.6" cy="589.4" r="1.95"/><circle cx="100.8" cy="609.2" r="1.95"/><circle cx="167.6" cy="590.6" r="1.95"/><circle cx="216.3" cy="599.7" r="1.95"/><circle cx="194.9" cy="609.3" r="1.95"/><circle cx="307.7" cy="546.0" r="1.95"/><circle cx="155.3" cy="608.1" r="1.95"/><circle cx="226.6" cy="601.4" r="1.95"/><circle cx="158.1" cy="599.2" r="1.95"/><circle cx="188.6" cy="598.0" r="1.95"/><circle cx="248.6" cy="599.0" r="1.95"/><circle cx="284.6" cy="552.7" r="1.95"/><circle cx="150.9" cy="610.4" r="1.95"/><circle cx="203.2" cy="596.0" r="1.95"/><circle cx="164.3" cy="605.8" r="1.95"/><circle cx="185.4" cy="604.1" r="1.95"/><circle cx="217.9" cy="571.2" r="1.95"/><circle cx="303.8" cy="585.9" r="1.95"/><circle cx="194.6" cy="604.4" r="1.95"/><circle cx="193.5" cy="603.4" r="1.95"/><circle cx="274.2" cy="558.0" r="1.95"/><circle cx="171.2" cy="590.6" r="1.95"/><circle cx="167.0" cy="603.0" r="1.95"/><circle cx="230.5" cy="597.5" r="1.95"/><circle cx="164.5" cy="602.0" r="1.95"/><circle cx="243.2" cy="592.5" r="1.95"/><circle cx="298.2" cy="550.8" r="1.95"/><circle cx="173.6" cy="597.2" r="1.95"/><circle cx="183.2" cy="598.0" r="1.95"/><circle cx="235.8" cy="584.8" r="1.95"/><circle cx="287.0" cy="571.8" r="1.95"/><circle cx="226.6" cy="597.4" r="1.95"/><circle cx="133.6" cy="609.2" r="1.95"/><circle cx="204.2" cy="611.0" r="1.95"/><circle cx="214.6" cy="592.8" r="1.95"/><circle cx="259.0" cy="580.1" r="1.95"/><circle cx="258.3" cy="587.1" r="1.95"/><circle cx="176.0" cy="599.0" r="1.95"/><circle cx="150.7" cy="596.0" r="1.95"/><circle cx="145.1" cy="595.9" r="1.95"/><circle cx="169.5" cy="606.6" r="1.95"/><circle cx="148.5" cy="607.2" r="1.95"/><circle cx="199.3" cy="608.5" r="1.95"/><circle cx="118.9" cy="608.7" r="1.95"/><circle cx="129.7" cy="604.9" r="1.95"/><circle cx="257.5" cy="595.2" r="1.95"/><circle cx="189.9" cy="607.7" r="1.95"/><circle cx="295.9" cy="564.1" r="1.95"/><circle cx="169.2" cy="604.7" r="1.95"/><circle cx="269.7" cy="541.4" r="1.95"/><circle cx="189.7" cy="607.7" r="1.95"/><circle cx="168.1" cy="599.6" r="1.95"/><circle cx="193.4" cy="598.5" r="1.95"/><circle cx="211.1" cy="575.8" r="1.95"/><circle cx="176.9" cy="604.3" r="1.95"/><circle cx="102.8" cy="610.0" r="1.95"/><circle cx="117.2" cy="610.9" r="1.95"/><circle cx="194.6" cy="605.2" r="1.95"/><circle cx="185.2" cy="611.3" r="1.95"/><circle cx="172.9" cy="603.0" r="1.95"/><circle cx="190.8" cy="598.5" r="1.95"/><circle cx="160.8" cy="601.0" r="1.95"/><circle cx="166.9" cy="606.1" r="1.95"/><circle cx="246.4" cy="563.0" r="1.95"/><circle cx="238.2" cy="603.3" r="1.95"/><circle cx="177.1" cy="606.2" r="1.95"/><circle cx="196.2" cy="580.9" r="1.95"/><circle cx="256.0" cy="601.5" r="1.95"/><circle cx="210.7" cy="596.1" r="1.95"/><circle cx="163.7" cy="606.8" r="1.95"/><circle cx="257.5" cy="590.5" r="1.95"/><circle cx="185.0" cy="605.1" r="1.95"/><circle cx="198.5" cy="590.9" r="1.95"/><circle cx="151.3" cy="606.0" r="1.95"/><circle cx="170.2" cy="602.1" r="1.95"/><circle cx="148.2" cy="604.8" r="1.95"/><circle cx="230.1" cy="586.2" r="1.95"/><circle cx="215.5" cy="584.3" r="1.95"/><circle cx="183.4" cy="605.1" r="1.95"/><circle cx="189.7" cy="603.6" r="1.95"/><circle cx="214.3" cy="584.2" r="1.95"/><circle cx="187.5" cy="609.9" r="1.95"/><circle cx="122.9" cy="606.5" r="1.95"/><circle cx="226.1" cy="589.1" r="1.95"/><circle cx="191.3" cy="603.0" r="1.95"/><circle cx="255.4" cy="597.4" r="1.95"/><circle cx="148.2" cy="598.2" r="1.95"/><circle cx="152.8" cy="601.7" r="1.95"/><circle cx="169.8" cy="605.8" r="1.95"/><circle cx="154.4" cy="602.8" r="1.95"/><circle cx="189.5" cy="602.8" r="1.95"/><circle cx="173.5" cy="606.8" r="1.95"/><circle cx="254.1" cy="574.2" r="1.95"/><circle cx="246.9" cy="602.3" r="1.95"/><circle cx="216.1" cy="608.0" r="1.95"/><circle cx="270.7" cy="574.9" r="1.95"/><circle cx="224.3" cy="597.7" r="1.95"/><circle cx="157.6" cy="599.6" r="1.95"/><circle cx="250.0" cy="595.6" r="1.95"/><circle cx="132.9" cy="609.6" r="1.95"/><circle cx="172.9" cy="607.5" r="1.95"/><circle cx="112.4" cy="612.3" r="1.95"/><circle cx="189.7" cy="579.3" r="1.95"/><circle cx="127.9" cy="607.6" r="1.95"/><circle cx="174.5" cy="602.0" r="1.95"/><circle cx="191.4" cy="591.1" r="1.95"/><circle cx="190.3" cy="606.2" r="1.95"/><circle cx="199.0" cy="600.2" r="1.95"/><circle cx="234.9" cy="587.2" r="1.95"/><circle cx="221.0" cy="597.2" r="1.95"/><circle cx="181.0" cy="605.0" r="1.95"/><circle cx="199.1" cy="587.7" r="1.95"/><circle cx="272.3" cy="593.5" r="1.95"/><circle cx="180.9" cy="603.4" r="1.95"/><circle cx="291.9" cy="592.0" r="1.95"/><circle cx="194.1" cy="611.2" r="1.95"/><circle cx="209.5" cy="605.5" r="1.95"/><circle cx="189.3" cy="593.6" r="1.95"/><circle cx="132.8" cy="612.9" r="1.95"/><circle cx="212.1" cy="603.5" r="1.95"/><circle cx="218.5" cy="575.3" r="1.95"/><circle cx="148.3" cy="610.8" r="1.95"/><circle cx="152.9" cy="611.5" r="1.95"/><circle cx="155.2" cy="598.7" r="1.95"/><circle cx="154.7" cy="611.0" r="1.95"/><circle cx="211.2" cy="593.5" r="1.95"/><circle cx="101.2" cy="609.5" r="1.95"/><circle cx="167.9" cy="602.2" r="1.95"/><circle cx="156.2" cy="607.8" r="1.95"/><circle cx="142.3" cy="588.0" r="1.95"/><circle cx="221.9" cy="587.4" r="1.95"/><circle cx="232.6" cy="593.0" r="1.95"/><circle cx="266.5" cy="574.8" r="1.95"/><circle cx="244.0" cy="557.0" r="1.95"/><circle cx="137.3" cy="609.1" r="1.95"/><circle cx="174.2" cy="609.9" r="1.95"/><circle cx="170.4" cy="606.6" r="1.95"/><circle cx="145.2" cy="601.8" r="1.95"/><circle cx="168.0" cy="603.6" r="1.95"/><circle cx="128.5" cy="608.7" r="1.95"/><circle cx="159.8" cy="608.5" r="1.95"/><circle cx="251.4" cy="583.5" r="1.95"/><circle cx="149.0" cy="609.7" r="1.95"/><circle cx="236.5" cy="600.9" r="1.95"/><circle cx="183.5" cy="588.0" r="1.95"/><circle cx="263.5" cy="585.7" r="1.95"/><circle cx="191.1" cy="599.4" r="1.95"/><circle cx="184.7" cy="602.0" r="1.95"/><circle cx="262.9" cy="579.1" r="1.95"/><circle cx="208.0" cy="600.2" r="1.95"/><circle cx="246.5" cy="596.2" r="1.95"/><circle cx="221.2" cy="604.7" r="1.95"/><circle cx="179.1" cy="600.7" r="1.95"/><circle cx="167.0" cy="602.8" r="1.95"/><circle cx="198.0" cy="603.8" r="1.95"/><circle cx="228.9" cy="592.0" r="1.95"/><circle cx="174.3" cy="602.6" r="1.95"/><circle cx="240.5" cy="602.1" r="1.95"/><circle cx="140.4" cy="602.2" r="1.95"/><circle cx="149.7" cy="608.7" r="1.95"/><circle cx="96.8" cy="610.7" r="1.95"/><circle cx="199.2" cy="608.6" r="1.95"/><circle cx="205.8" cy="607.7" r="1.95"/><circle cx="169.4" cy="596.0" r="1.95"/><circle cx="273.6" cy="587.6" r="1.95"/><circle cx="256.7" cy="597.6" r="1.95"/><circle cx="237.5" cy="606.4" r="1.95"/><circle cx="211.1" cy="601.6" r="1.95"/><circle cx="144.5" cy="608.0" r="1.95"/><circle cx="172.6" cy="605.4" r="1.95"/><circle cx="222.2" cy="603.6" r="1.95"/><circle cx="155.6" cy="606.5" r="1.95"/><circle cx="163.8" cy="605.9" r="1.95"/><circle cx="135.3" cy="604.2" r="1.95"/><circle cx="145.5" cy="602.3" r="1.95"/><circle cx="231.4" cy="602.1" r="1.95"/><circle cx="221.9" cy="578.5" r="1.95"/><circle cx="176.6" cy="601.3" r="1.95"/><circle cx="149.6" cy="600.2" r="1.95"/><circle cx="197.9" cy="582.8" r="1.95"/><circle cx="239.7" cy="593.9" r="1.95"/><circle cx="151.9" cy="601.1" r="1.95"/><circle cx="250.9" cy="594.8" r="1.95"/><circle cx="241.0" cy="587.5" r="1.95"/><circle cx="177.7" cy="607.4" r="1.95"/><circle cx="185.3" cy="594.4" r="1.95"/><circle cx="149.9" cy="607.1" r="1.95"/><circle cx="183.7" cy="606.9" r="1.95"/><circle cx="148.7" cy="604.6" r="1.95"/><circle cx="245.9" cy="595.4" r="1.95"/><circle cx="140.7" cy="607.3" r="1.95"/><circle cx="173.4" cy="603.0" r="1.95"/><circle cx="141.4" cy="603.7" r="1.95"/><circle cx="163.9" cy="598.4" r="1.95"/><circle cx="181.3" cy="606.6" r="1.95"/><circle cx="174.2" cy="601.5" r="1.95"/><circle cx="209.4" cy="590.2" r="1.95"/><circle cx="131.3" cy="610.3" r="1.95"/><circle cx="175.9" cy="611.5" r="1.95"/><circle cx="168.6" cy="602.3" r="1.95"/><circle cx="158.6" cy="606.2" r="1.95"/><circle cx="162.4" cy="605.9" r="1.95"/><circle cx="143.8" cy="601.5" r="1.95"/><circle cx="232.8" cy="592.6" r="1.95"/><circle cx="287.0" cy="570.0" r="1.95"/><circle cx="183.3" cy="610.9" r="1.95"/><circle cx="147.1" cy="603.2" r="1.95"/><circle cx="274.3" cy="591.7" r="1.95"/><circle cx="235.6" cy="600.9" r="1.95"/><circle cx="177.8" cy="606.9" r="1.95"/><circle cx="173.7" cy="606.6" r="1.95"/><circle cx="205.1" cy="607.0" r="1.95"/><circle cx="278.6" cy="568.2" r="1.95"/><circle cx="112.4" cy="612.3" r="1.95"/><circle cx="311.9" cy="589.1" r="1.95"/><circle cx="221.3" cy="604.6" r="1.95"/><circle cx="125.5" cy="598.2" r="1.95"/><circle cx="215.0" cy="601.3" r="1.95"/><circle cx="176.7" cy="608.1" r="1.95"/><circle cx="103.5" cy="607.7" r="1.95"/><circle cx="298.1" cy="580.7" r="1.95"/><circle cx="217.3" cy="586.3" r="1.95"/><circle cx="131.4" cy="609.4" r="1.95"/><circle cx="126.1" cy="605.3" r="1.95"/><circle cx="148.5" cy="595.8" r="1.95"/><circle cx="244.0" cy="600.9" r="1.95"/><circle cx="217.3" cy="595.2" r="1.95"/><circle cx="167.2" cy="605.4" r="1.95"/><circle cx="197.2" cy="609.7" r="1.95"/><circle cx="257.8" cy="596.1" r="1.95"/><circle cx="158.2" cy="601.5" r="1.95"/><circle cx="150.8" cy="593.3" r="1.95"/><circle cx="256.5" cy="587.8" r="1.95"/><circle cx="272.7" cy="538.8" r="1.95"/><circle cx="177.8" cy="610.5" r="1.95"/><circle cx="130.0" cy="609.8" r="1.95"/><circle cx="241.6" cy="581.4" r="1.95"/><circle cx="194.9" cy="570.0" r="1.95"/><circle cx="188.1" cy="594.5" r="1.95"/><circle cx="149.9" cy="608.4" r="1.95"/><circle cx="201.8" cy="586.9" r="1.95"/><circle cx="100.9" cy="603.5" r="1.95"/><circle cx="151.0" cy="598.5" r="1.95"/><circle cx="187.5" cy="608.6" r="1.95"/><circle cx="159.1" cy="583.7" r="1.95"/><circle cx="188.6" cy="604.5" r="1.95"/><circle cx="132.8" cy="610.7" r="1.95"/><circle cx="266.4" cy="544.5" r="1.95"/><circle cx="306.9" cy="554.1" r="1.95"/><circle cx="175.4" cy="608.6" r="1.95"/><circle cx="274.1" cy="590.1" r="1.95"/><circle cx="136.3" cy="608.5" r="1.95"/><circle cx="187.4" cy="590.9" r="1.95"/><circle cx="184.9" cy="588.1" r="1.95"/><circle cx="239.6" cy="590.2" r="1.95"/><circle cx="100.2" cy="609.5" r="1.95"/><circle cx="230.7" cy="562.4" r="1.95"/><circle cx="120.1" cy="605.5" r="1.95"/><circle cx="225.9" cy="581.4" r="1.95"/><circle cx="203.2" cy="601.2" r="1.95"/><circle cx="190.1" cy="598.6" r="1.95"/><circle cx="255.9" cy="598.6" r="1.95"/><circle cx="169.5" cy="608.2" r="1.95"/><circle cx="193.3" cy="611.6" r="1.95"/><circle cx="269.6" cy="583.2" r="1.95"/><circle cx="146.8" cy="607.7" r="1.95"/><circle cx="173.5" cy="607.4" r="1.95"/><circle cx="102.8" cy="609.3" r="1.95"/><circle cx="203.3" cy="607.6" r="1.95"/><circle cx="173.4" cy="606.2" r="1.95"/><circle cx="183.7" cy="610.2" r="1.95"/><circle cx="135.1" cy="603.6" r="1.95"/><circle cx="222.4" cy="588.5" r="1.95"/><circle cx="225.2" cy="604.9" r="1.95"/><circle cx="221.4" cy="600.9" r="1.95"/><circle cx="237.1" cy="597.5" r="1.95"/><circle cx="218.5" cy="604.4" r="1.95"/><circle cx="263.4" cy="589.8" r="1.95"/><circle cx="202.7" cy="606.3" r="1.95"/><circle cx="263.3" cy="570.6" r="1.95"/><circle cx="272.9" cy="597.4" r="1.95"/><circle cx="218.1" cy="599.1" r="1.95"/><circle cx="173.5" cy="601.9" r="1.95"/><circle cx="168.0" cy="595.6" r="1.95"/><circle cx="135.9" cy="610.6" r="1.95"/><circle cx="150.5" cy="603.2" r="1.95"/><circle cx="142.8" cy="612.0" r="1.95"/><circle cx="196.3" cy="591.0" r="1.95"/><circle cx="152.7" cy="605.6" r="1.95"/><circle cx="161.4" cy="605.1" r="1.95"/><circle cx="203.4" cy="610.3" r="1.95"/><circle cx="274.6" cy="589.4" r="1.95"/><circle cx="233.4" cy="585.5" r="1.95"/><circle cx="137.0" cy="598.7" r="1.95"/><circle cx="164.5" cy="609.6" r="1.95"/><circle cx="208.5" cy="565.8" r="1.95"/><circle cx="267.9" cy="607.9" r="1.95"/><circle cx="166.7" cy="605.1" r="1.95"/><circle cx="161.2" cy="609.7" r="1.95"/><circle cx="157.7" cy="610.3" r="1.95"/><circle cx="266.9" cy="585.8" r="1.95"/><circle cx="138.8" cy="607.2" r="1.95"/><circle cx="265.4" cy="593.9" r="1.95"/><circle cx="246.1" cy="604.3" r="1.95"/><circle cx="187.9" cy="609.1" r="1.95"/><circle cx="269.0" cy="590.6" r="1.95"/><circle cx="245.6" cy="593.7" r="1.95"/><circle cx="121.0" cy="598.6" r="1.95"/><circle cx="185.9" cy="609.9" r="1.95"/><circle cx="259.0" cy="586.9" r="1.95"/><circle cx="320.5" cy="517.4" r="1.95"/><circle cx="206.3" cy="609.0" r="1.95"/><circle cx="117.3" cy="609.6" r="1.95"/><circle cx="121.3" cy="608.3" r="1.95"/><circle cx="246.8" cy="585.3" r="1.95"/><circle cx="271.1" cy="564.4" r="1.95"/><circle cx="213.0" cy="602.1" r="1.95"/><circle cx="154.5" cy="607.6" r="1.95"/><circle cx="187.9" cy="589.9" r="1.95"/><circle cx="175.8" cy="608.4" r="1.95"/><circle cx="144.3" cy="610.7" r="1.95"/><circle cx="148.4" cy="590.7" r="1.95"/><circle cx="250.8" cy="588.4" r="1.95"/><circle cx="217.8" cy="600.5" r="1.95"/><circle cx="144.9" cy="611.2" r="1.95"/><circle cx="196.0" cy="594.6" r="1.95"/><circle cx="253.5" cy="597.5" r="1.95"/><circle cx="218.8" cy="606.2" r="1.95"/><circle cx="202.2" cy="603.1" r="1.95"/><circle cx="208.2" cy="608.8" r="1.95"/><circle cx="190.2" cy="603.3" r="1.95"/><circle cx="167.2" cy="597.4" r="1.95"/><circle cx="218.1" cy="589.4" r="1.95"/><circle cx="275.9" cy="596.8" r="1.95"/><circle cx="234.7" cy="607.6" r="1.95"/><circle cx="180.8" cy="609.1" r="1.95"/><circle cx="152.6" cy="604.2" r="1.95"/><circle cx="242.3" cy="584.7" r="1.95"/><circle cx="243.7" cy="578.8" r="1.95"/><circle cx="182.9" cy="598.6" r="1.95"/><circle cx="178.9" cy="608.4" r="1.95"/><circle cx="245.2" cy="596.5" r="1.95"/><circle cx="116.7" cy="612.4" r="1.95"/><circle cx="206.0" cy="600.8" r="1.95"/><circle cx="172.4" cy="602.7" r="1.95"/><circle cx="170.8" cy="607.0" r="1.95"/><circle cx="137.9" cy="605.9" r="1.95"/><circle cx="261.0" cy="599.3" r="1.95"/><circle cx="153.6" cy="603.3" r="1.95"/><circle cx="219.0" cy="590.0" r="1.95"/><circle cx="161.8" cy="605.0" r="1.95"/><circle cx="161.5" cy="604.2" r="1.95"/><circle cx="135.5" cy="606.8" r="1.95"/><circle cx="126.5" cy="596.2" r="1.95"/><circle cx="123.1" cy="608.5" r="1.95"/><circle cx="255.1" cy="592.9" r="1.95"/><circle cx="217.4" cy="605.9" r="1.95"/><circle cx="236.1" cy="574.8" r="1.95"/><circle cx="251.7" cy="595.5" r="1.95"/><circle cx="266.1" cy="580.7" r="1.95"/><circle cx="191.0" cy="606.0" r="1.95"/><circle cx="229.9" cy="589.7" r="1.95"/><circle cx="165.7" cy="608.6" r="1.95"/><circle cx="188.9" cy="609.3" r="1.95"/><circle cx="239.7" cy="581.1" r="1.95"/><circle cx="248.0" cy="596.2" r="1.95"/><circle cx="213.2" cy="577.8" r="1.95"/><circle cx="231.4" cy="578.9" r="1.95"/><circle cx="158.6" cy="595.0" r="1.95"/><circle cx="171.1" cy="610.3" r="1.95"/><circle cx="183.8" cy="587.4" r="1.95"/><circle cx="234.7" cy="590.3" r="1.95"/><circle cx="145.7" cy="599.6" r="1.95"/><circle cx="208.5" cy="604.8" r="1.95"/><circle cx="226.2" cy="601.1" r="1.95"/><circle cx="148.6" cy="605.8" r="1.95"/><circle cx="205.2" cy="606.9" r="1.95"/><circle cx="286.8" cy="590.1" r="1.95"/><circle cx="212.5" cy="603.1" r="1.95"/><circle cx="161.4" cy="607.2" r="1.95"/><circle cx="153.4" cy="607.2" r="1.95"/><circle cx="203.8" cy="607.6" r="1.95"/><circle cx="219.4" cy="589.8" r="1.95"/><circle cx="177.3" cy="599.5" r="1.95"/><circle cx="215.2" cy="587.5" r="1.95"/><circle cx="198.5" cy="603.9" r="1.95"/><circle cx="162.0" cy="606.5" r="1.95"/><circle cx="183.4" cy="597.5" r="1.95"/><circle cx="159.1" cy="608.1" r="1.95"/><circle cx="172.2" cy="591.4" r="1.95"/><circle cx="149.7" cy="610.8" r="1.95"/><circle cx="127.9" cy="608.1" r="1.95"/><circle cx="201.4" cy="598.4" r="1.95"/><circle cx="177.9" cy="602.7" r="1.95"/><circle cx="190.5" cy="596.4" r="1.95"/><circle cx="171.4" cy="603.2" r="1.95"/><circle cx="154.2" cy="607.3" r="1.95"/><circle cx="155.3" cy="604.1" r="1.95"/><circle cx="193.6" cy="607.6" r="1.95"/><circle cx="199.2" cy="599.3" r="1.95"/><circle cx="189.6" cy="604.5" r="1.95"/><circle cx="192.2" cy="536.4" r="1.95"/><circle cx="185.3" cy="563.1" r="1.95"/><circle cx="183.6" cy="572.2" r="1.95"/><circle cx="177.4" cy="580.9" r="1.95"/><circle cx="214.9" cy="553.2" r="1.95"/><circle cx="209.5" cy="562.3" r="1.95"/><circle cx="214.9" cy="562.6" r="1.95"/><circle cx="230.5" cy="553.2" r="1.95"/><circle cx="228.5" cy="556.4" r="1.95"/><circle cx="236.7" cy="556.9" r="1.95"/><circle cx="244.1" cy="560.1" r="1.95"/><circle cx="255.7" cy="538.4" r="1.95"/><circle cx="256.4" cy="541.4" r="1.95"/><circle cx="260.1" cy="529.0" r="1.95"/><circle cx="263.1" cy="544.6" r="1.95"/><circle cx="255.2" cy="549.5" r="1.95"/><circle cx="261.9" cy="547.0" r="1.95"/><circle cx="273.7" cy="516.7" r="1.95"/><circle cx="279.9" cy="521.1" r="1.95"/><circle cx="276.2" cy="529.8" r="1.95"/><circle cx="277.9" cy="535.4" r="1.95"/><circle cx="274.4" cy="544.1" r="1.95"/><circle cx="289.3" cy="518.1" r="1.95"/><circle cx="307.0" cy="518.6" r="1.95"/><circle cx="303.3" cy="526.8" r="1.95"/><circle cx="294.7" cy="540.1" r="1.95"/><circle cx="302.1" cy="540.9" r="1.95"/><circle cx="286.0" cy="550.2" r="1.95"/><circle cx="289.0" cy="546.3" r="1.95"/><circle cx="300.9" cy="549.5" r="1.95"/><circle cx="315.7" cy="536.7" r="1.95"/><circle cx="314.4" cy="545.3" r="1.95"/><circle cx="323.1" cy="521.1" r="1.95"/><circle cx="323.1" cy="534.7" r="1.95"/><circle cx="310.7" cy="554.4" r="1.95"/><circle cx="304.6" cy="556.2" r="1.95"/><circle cx="312.0" cy="556.9" r="1.95"/><circle cx="305.3" cy="562.6" r="1.95"/><circle cx="316.9" cy="562.6" r="1.95"/><circle cx="314.0" cy="574.2" r="1.95"/><circle cx="311.2" cy="584.1" r="1.95"/><circle cx="292.7" cy="574.9" r="1.95"/><circle cx="285.3" cy="585.3" r="1.95"/><circle cx="274.9" cy="596.4" r="1.95"/><circle cx="279.9" cy="594.0" r="1.95"/><circle cx="256.4" cy="602.6" r="1.95"/><circle cx="244.1" cy="603.1" r="1.95"/><circle cx="250.2" cy="601.4" r="1.95"/><circle cx="339.5" cy="508.1" r="1.95"/><circle cx="370.1" cy="505.7" r="1.95"/><circle cx="396.0" cy="515.1" r="1.95"/><circle cx="307.2" cy="518.3" r="1.95"/><circle cx="289.4" cy="518.3" r="1.95"/><circle cx="330.1" cy="518.8" r="1.95"/><circle cx="335.6" cy="518.8" r="1.95"/><circle cx="339.3" cy="508.6" r="1.95"/><circle cx="395.3" cy="527.2" r="1.95"/><circle cx="329.9" cy="519.0" r="1.95"/><circle cx="335.6" cy="519.4" r="1.95"/><circle cx="339.3" cy="522.2" r="1.95"/><circle cx="338.0" cy="524.0" r="1.95"/><circle cx="322.5" cy="521.0" r="1.95"/><circle cx="321.2" cy="524.7" r="1.95"/><circle cx="322.5" cy="535.3" r="1.95"/><circle cx="321.2" cy="538.3" r="1.95"/><circle cx="348.9" cy="537.5" r="1.95"/><circle cx="360.2" cy="534.1" r="1.95"/><circle cx="368.1" cy="535.8" r="1.95"/><circle cx="385.4" cy="544.7" r="1.95"/><circle cx="343.0" cy="547.7" r="1.95"/><circle cx="324.9" cy="551.9" r="1.95"/><circle cx="355.3" cy="553.1" r="1.95"/><circle cx="337.3" cy="565.9" r="1.95"/><circle cx="354.8" cy="581.5" r="1.95"/><circle cx="66.9" cy="611.5" r="1.95"/><circle cx="79.5" cy="611.5" r="1.95"/><circle cx="90.0" cy="605.2" r="1.95"/><circle cx="93.7" cy="602.8" r="1.95"/><circle cx="101.5" cy="607.0" r="1.95"/><circle cx="103.0" cy="610.0" r="1.95"/><circle cx="108.5" cy="601.5" r="1.95"/><circle cx="110.5" cy="604.0" r="1.95"/>
</g>
<g fill="#7b7b7b" stroke="#2e2e2e" stroke-width="1">
<circle cx="292.7" cy="515.1" r="2.05"/><circle cx="284.3" cy="535.9" r="2.05"/><circle cx="312.0" cy="540.1" r="2.05"/><circle cx="307.0" cy="549.0" r="2.05"/><circle cx="329.4" cy="551.0" r="2.05"/><circle cx="277.9" cy="556.4" r="2.05"/><circle cx="288.5" cy="555.2" r="2.05"/><circle cx="288.5" cy="560.1" r="2.05"/><circle cx="295.4" cy="561.4" r="2.05"/><circle cx="289.8" cy="565.1" r="2.05"/><circle cx="248.5" cy="564.3" r="2.05"/><circle cx="241.6" cy="569.3" r="2.05"/><circle cx="248.5" cy="570.0" r="2.05"/><circle cx="251.0" cy="568.8" r="2.05"/><circle cx="264.3" cy="564.8" r="2.05"/><circle cx="272.0" cy="568.5" r="2.05"/><circle cx="232.2" cy="575.9" r="2.05"/><circle cx="269.5" cy="582.3" r="2.05"/><circle cx="281.1" cy="580.9" r="2.05"/><circle cx="259.6" cy="583.3" r="2.05"/><circle cx="252.2" cy="587.0" r="2.05"/><circle cx="198.9" cy="587.2" r="2.05"/><circle cx="187.8" cy="591.1" r="2.05"/><circle cx="230.0" cy="590.2" r="2.05"/><circle cx="224.3" cy="591.0" r="2.05"/><circle cx="221.4" cy="592.2" r="2.05"/><circle cx="401.8" cy="431.3" r="2.05"/><circle cx="437.3" cy="451.6" r="2.05"/><circle cx="372.1" cy="470.1" r="2.05"/><circle cx="359.8" cy="481.0" r="2.05"/><circle cx="391.1" cy="479.5" r="2.05"/><circle cx="395.1" cy="483.7" r="2.05"/><circle cx="365.7" cy="489.4" r="2.05"/><circle cx="366.4" cy="493.3" r="2.05"/><circle cx="369.6" cy="494.8" r="2.05"/><circle cx="375.1" cy="490.4" r="2.05"/><circle cx="325.6" cy="499.7" r="2.05"/><circle cx="353.3" cy="499.9" r="2.05"/><circle cx="351.6" cy="503.1" r="2.05"/><circle cx="345.4" cy="505.4" r="2.05"/><circle cx="373.1" cy="504.3" r="2.05"/><circle cx="373.4" cy="510.2" r="2.05"/><circle cx="377.1" cy="509.8" r="2.05"/><circle cx="383.6" cy="508.5" r="2.05"/><circle cx="408.9" cy="505.8" r="2.05"/><circle cx="430.3" cy="507.2" r="2.05"/><circle cx="435.3" cy="500.3" r="2.05"/><circle cx="338.5" cy="512.8" r="2.05"/><circle cx="294.8" cy="509.9" r="2.05"/><circle cx="398.4" cy="520.4" r="2.05"/><circle cx="362.5" cy="524.7" r="2.05"/><circle cx="361.2" cy="529.1" r="2.05"/><circle cx="353.8" cy="530.1" r="2.05"/><circle cx="340.0" cy="528.9" r="2.05"/><circle cx="332.3" cy="532.1" r="2.05"/><circle cx="387.9" cy="532.8" r="2.05"/><circle cx="330.6" cy="543.7" r="2.05"/><circle cx="363.2" cy="544.0" r="2.05"/><circle cx="382.2" cy="543.0" r="2.05"/><circle cx="342.7" cy="553.3" r="2.05"/><circle cx="365.7" cy="554.1" r="2.05"/><circle cx="365.2" cy="566.2" r="2.05"/><circle cx="340.5" cy="568.6" r="2.05"/><circle cx="508.5" cy="411.0" r="2.05"/><circle cx="571.0" cy="404.0" r="2.05"/><circle cx="466.8" cy="466.3" r="2.05"/><circle cx="490.2" cy="493.5" r="2.05"/><circle cx="506.5" cy="505.3" r="2.05"/><circle cx="333.3" cy="383.5" r="2.05"/>
</g>
<text x="73.70" y="353.55" font-size="14.6" fill="#000" textLength="493.50" lengthAdjust="spacingAndGlyphs">Screening Males for High Visceral Fat Using Waist Circumference Cut-Offs</text>
<text x="46.90" y="635.4" font-size="10.6" text-anchor="middle" letter-spacing="0.25">60</text>
<text x="112.05" y="635.4" font-size="10.6" text-anchor="middle" letter-spacing="0.25">70</text>
<text x="177.20" y="635.4" font-size="10.6" text-anchor="middle" letter-spacing="0.25">80</text>
<text x="242.35" y="635.4" font-size="10.6" text-anchor="middle" letter-spacing="0.25">90</text>
<text x="307.50" y="635.4" font-size="10.6" text-anchor="middle" letter-spacing="0.25">100</text>
<text x="372.65" y="635.4" font-size="10.6" text-anchor="middle" letter-spacing="0.25">110</text>
<text x="437.80" y="635.4" font-size="10.6" text-anchor="middle" letter-spacing="0.25">120</text>
<text x="502.95" y="635.4" font-size="10.6" text-anchor="middle" letter-spacing="0.25">130</text>
<text x="568.10" y="635.4" font-size="10.6" text-anchor="middle" letter-spacing="0.25">140</text>
<text x="633.25" y="635.4" font-size="10.6" text-anchor="middle" letter-spacing="0.25">150</text>
<text x="34.6" y="618.60" font-size="10.6" text-anchor="end">0</text>
<text x="34.6" y="576.92" font-size="10.6" text-anchor="end">1</text>
<text x="34.6" y="535.23" font-size="10.6" text-anchor="end">2</text>
<text x="34.6" y="493.55" font-size="10.6" text-anchor="end">3</text>
<text x="34.6" y="451.87" font-size="10.6" text-anchor="end">4</text>
<text x="34.6" y="410.18" font-size="10.6" text-anchor="end">5</text>
<text x="34.6" y="368.50" font-size="10.6" text-anchor="end">6</text>
<text x="252.90" y="652.80" font-size="14.4" fill="#000" textLength="174.20" lengthAdjust="spacingAndGlyphs">Waist Circumference (cm)</text>
<text transform="translate(17.00,566.20) rotate(-90)" x="0" y="0" font-size="15.4" textLength="145.80" lengthAdjust="spacingAndGlyphs">Visceral Fat Mass (kg)</text>
<text x="144.30" y="384.70" font-size="12.1" fill="#5c5c5c" font-style="italic" textLength="101.30" lengthAdjust="spacingAndGlyphs">Sensitivity = 0.80</text>
<text x="145.30" y="402.00" font-size="12.1" fill="#5c5c5c" font-style="italic" textLength="100.30" lengthAdjust="spacingAndGlyphs">Specificity = 0.87</text>
<text x="161.60" y="420.00" font-size="12.1" fill="#5c5c5c" font-style="italic" textLength="84.00" lengthAdjust="spacingAndGlyphs">Youden = 0.67</text>
<text x="345.70" y="382.40" font-size="12.1" fill="#000" textLength="102.10" lengthAdjust="spacingAndGlyphs">Sensitivity = 0.61</text>
<text x="346.90" y="399.70" font-size="12.1" fill="#000" textLength="100.90" lengthAdjust="spacingAndGlyphs">Specificity = 0.96</text>
<text x="362.20" y="417.50" font-size="12.1" fill="#000" textLength="85.60" lengthAdjust="spacingAndGlyphs">Youden = 0.58</text>
<circle cx="70.4" cy="462.2" r="1.9" fill="#e4e4e4" stroke="#b0b0b0" stroke-width="0.8"/>
<circle cx="70.4" cy="492.6" r="1.9" fill="#7b7b7b" stroke="#2e2e2e" stroke-width="1"/>
<path d="M57.8 523.8h6.2M66.4 523.8h6.2M75.1 523.8h5.7M82.0 523.8h1.7" stroke="#494949" stroke-width="2.3" fill="none"/>
<line x1="57.8" y1="553.8" x2="77.8" y2="553.8" stroke="#1c1c1c" stroke-width="2.5"/>
<text x="84.40" y="466.70" font-size="12.1" fill="#000" textLength="96.80" lengthAdjust="spacingAndGlyphs">Low Visceral Fat</text>
<text x="84.40" y="496.80" font-size="12.1" fill="#000" textLength="99.60" lengthAdjust="spacingAndGlyphs">High Visceral Fat</text>
<text x="83.50" y="528.00" font-size="12.1" fill="#000" textLength="60.20" lengthAdjust="spacingAndGlyphs">WC 94 cm</text>
<text x="84.40" y="558.80" font-size="12.1" fill="#000" textLength="66.70" lengthAdjust="spacingAndGlyphs">WC 102 cm</text>
</g>
<g id="panel3">
<line x1="48.4" y1="956.3" x2="634.0" y2="956.3" stroke="#d2d2d2" stroke-width="1.4"/>
<line x1="48.4" y1="707.3" x2="48.4" y2="956.3" stroke="#d2d2d2" stroke-width="1.4"/>
<clipPath id="clip3"><rect x="40" y="706.90" width="600" height="249.40"/></clipPath>
<g clip-path="url(#clip3)" fill="none" stroke-linecap="round">
<path d="M345.7 679.40V683.20 M345.7 689.85V693.65 M345.7 700.30V704.10 M345.7 710.75V714.55 M345.7 721.20V725.00 M345.7 731.65V735.45 M345.7 742.10V745.90 M345.7 752.55V756.35 M345.7 763.00V766.80 M345.7 773.45V777.25 M345.7 783.90V787.70 M345.7 794.35V798.15 M345.7 804.80V808.60 M345.7 815.25V819.05 M345.7 825.70V829.50 M345.7 836.15V839.95 M345.7 846.60V850.40 M345.7 857.05V860.85 M345.7 867.50V871.30 M345.7 877.95V881.75 M345.7 888.40V892.20 M345.7 898.85V902.65 M345.7 909.30V913.10 M345.7 919.75V923.55 M345.7 930.20V934.00 M345.7 940.65V944.45 M345.7 951.10V954.90 M345.7 961.55V965.35" stroke="#494949" stroke-width="2.7"/>
<path d="M399.4 663.90V680.90 M399.4 692.60V709.60 M399.4 721.30V738.30 M399.4 750.00V767.00 M399.4 778.70V795.70 M399.4 807.40V824.40 M399.4 836.10V853.10 M399.4 864.80V881.80 M399.4 893.50V910.50 M399.4 922.20V939.20 M399.4 950.90V967.90 M399.4 979.60V996.60" stroke="#1c1c1c" stroke-width="3.0"/>
</g>
<g fill="#d6d6d6" stroke="#9c9c9c" stroke-width="0.8">
<circle cx="254.0" cy="947.0" r="1.95"/><circle cx="157.8" cy="952.2" r="1.95"/><circle cx="261.6" cy="955.4" r="1.95"/><circle cx="297.0" cy="930.7" r="1.95"/><circle cx="266.7" cy="933.7" r="1.95"/><circle cx="223.1" cy="949.2" r="1.95"/><circle cx="264.0" cy="952.2" r="1.95"/><circle cx="266.5" cy="945.5" r="1.95"/><circle cx="206.6" cy="945.0" r="1.95"/><circle cx="340.3" cy="951.3" r="1.95"/><circle cx="393.7" cy="916.3" r="1.95"/><circle cx="329.6" cy="930.8" r="1.95"/><circle cx="302.9" cy="946.3" r="1.95"/><circle cx="285.9" cy="951.7" r="1.95"/><circle cx="217.8" cy="950.4" r="1.95"/><circle cx="246.7" cy="948.7" r="1.95"/><circle cx="355.1" cy="931.5" r="1.95"/><circle cx="275.6" cy="938.4" r="1.95"/><circle cx="240.1" cy="940.1" r="1.95"/><circle cx="218.6" cy="953.4" r="1.95"/><circle cx="198.7" cy="945.8" r="1.95"/><circle cx="309.3" cy="941.9" r="1.95"/><circle cx="242.8" cy="954.7" r="1.95"/><circle cx="396.2" cy="948.1" r="1.95"/><circle cx="171.1" cy="949.5" r="1.95"/><circle cx="295.5" cy="945.6" r="1.95"/><circle cx="246.7" cy="948.7" r="1.95"/><circle cx="261.1" cy="945.4" r="1.95"/><circle cx="274.3" cy="934.6" r="1.95"/><circle cx="297.8" cy="948.6" r="1.95"/><circle cx="258.3" cy="938.9" r="1.95"/><circle cx="273.1" cy="939.6" r="1.95"/><circle cx="309.9" cy="946.8" r="1.95"/><circle cx="255.2" cy="944.7" r="1.95"/><circle cx="380.9" cy="926.5" r="1.95"/><circle cx="263.9" cy="935.5" r="1.95"/><circle cx="182.1" cy="945.1" r="1.95"/><circle cx="231.8" cy="944.7" r="1.95"/><circle cx="153.4" cy="942.6" r="1.95"/><circle cx="310.3" cy="951.1" r="1.95"/><circle cx="282.0" cy="950.1" r="1.95"/><circle cx="340.2" cy="925.0" r="1.95"/><circle cx="255.9" cy="948.4" r="1.95"/><circle cx="342.1" cy="928.4" r="1.95"/><circle cx="397.0" cy="937.5" r="1.95"/><circle cx="198.2" cy="945.6" r="1.95"/><circle cx="389.1" cy="923.6" r="1.95"/><circle cx="196.3" cy="944.2" r="1.95"/><circle cx="231.4" cy="949.6" r="1.95"/><circle cx="338.9" cy="950.8" r="1.95"/><circle cx="295.1" cy="934.3" r="1.95"/><circle cx="292.5" cy="936.4" r="1.95"/><circle cx="346.6" cy="937.5" r="1.95"/><circle cx="400.4" cy="916.5" r="1.95"/><circle cx="282.8" cy="938.5" r="1.95"/><circle cx="202.1" cy="945.1" r="1.95"/><circle cx="264.3" cy="938.4" r="1.95"/><circle cx="234.5" cy="941.5" r="1.95"/><circle cx="250.6" cy="950.1" r="1.95"/><circle cx="216.3" cy="940.2" r="1.95"/><circle cx="229.4" cy="945.0" r="1.95"/><circle cx="265.3" cy="946.2" r="1.95"/><circle cx="147.3" cy="947.8" r="1.95"/><circle cx="254.8" cy="947.5" r="1.95"/><circle cx="410.9" cy="953.5" r="1.95"/><circle cx="323.5" cy="951.9" r="1.95"/><circle cx="249.7" cy="938.8" r="1.95"/><circle cx="388.9" cy="923.7" r="1.95"/><circle cx="307.3" cy="946.2" r="1.95"/><circle cx="231.8" cy="947.9" r="1.95"/><circle cx="222.7" cy="940.2" r="1.95"/><circle cx="287.1" cy="935.6" r="1.95"/><circle cx="328.8" cy="938.6" r="1.95"/><circle cx="378.9" cy="947.6" r="1.95"/><circle cx="209.0" cy="951.9" r="1.95"/><circle cx="186.8" cy="949.4" r="1.95"/><circle cx="170.4" cy="950.9" r="1.95"/><circle cx="360.8" cy="954.2" r="1.95"/><circle cx="261.0" cy="952.6" r="1.95"/><circle cx="364.6" cy="951.4" r="1.95"/><circle cx="322.0" cy="944.4" r="1.95"/><circle cx="160.3" cy="947.9" r="1.95"/><circle cx="204.5" cy="952.3" r="1.95"/><circle cx="306.8" cy="954.5" r="1.95"/><circle cx="303.8" cy="938.3" r="1.95"/><circle cx="244.2" cy="949.0" r="1.95"/><circle cx="321.2" cy="929.4" r="1.95"/><circle cx="270.1" cy="945.9" r="1.95"/><circle cx="374.6" cy="920.8" r="1.95"/><circle cx="286.0" cy="942.5" r="1.95"/><circle cx="404.8" cy="936.7" r="1.95"/><circle cx="247.4" cy="936.1" r="1.95"/><circle cx="195.2" cy="946.0" r="1.95"/><circle cx="331.6" cy="939.5" r="1.95"/><circle cx="285.2" cy="936.3" r="1.95"/><circle cx="280.2" cy="954.7" r="1.95"/><circle cx="354.1" cy="926.6" r="1.95"/><circle cx="192.1" cy="954.6" r="1.95"/><circle cx="336.5" cy="946.4" r="1.95"/><circle cx="264.8" cy="945.3" r="1.95"/><circle cx="203.4" cy="943.2" r="1.95"/><circle cx="354.4" cy="942.2" r="1.95"/><circle cx="201.6" cy="953.4" r="1.95"/><circle cx="169.5" cy="947.5" r="1.95"/><circle cx="310.8" cy="942.7" r="1.95"/><circle cx="352.7" cy="922.8" r="1.95"/><circle cx="200.3" cy="951.6" r="1.95"/><circle cx="314.3" cy="930.5" r="1.95"/><circle cx="263.6" cy="942.2" r="1.95"/><circle cx="230.6" cy="936.7" r="1.95"/><circle cx="261.0" cy="955.4" r="1.95"/><circle cx="310.3" cy="935.9" r="1.95"/><circle cx="323.4" cy="955.3" r="1.95"/><circle cx="304.7" cy="939.1" r="1.95"/><circle cx="343.6" cy="946.9" r="1.95"/><circle cx="282.2" cy="954.7" r="1.95"/><circle cx="362.7" cy="938.1" r="1.95"/><circle cx="322.1" cy="934.3" r="1.95"/><circle cx="275.9" cy="942.8" r="1.95"/><circle cx="315.8" cy="927.9" r="1.95"/><circle cx="290.2" cy="933.5" r="1.95"/><circle cx="333.8" cy="954.8" r="1.95"/><circle cx="285.9" cy="938.4" r="1.95"/><circle cx="180.4" cy="949.7" r="1.95"/><circle cx="232.7" cy="952.9" r="1.95"/><circle cx="270.6" cy="952.1" r="1.95"/><circle cx="279.5" cy="955.1" r="1.95"/><circle cx="361.7" cy="934.6" r="1.95"/><circle cx="287.0" cy="940.9" r="1.95"/><circle cx="323.6" cy="943.7" r="1.95"/><circle cx="184.9" cy="946.0" r="1.95"/><circle cx="302.1" cy="937.1" r="1.95"/><circle cx="370.7" cy="932.2" r="1.95"/><circle cx="331.9" cy="941.0" r="1.95"/><circle cx="341.7" cy="955.9" r="1.95"/><circle cx="357.9" cy="926.1" r="1.95"/><circle cx="331.0" cy="926.2" r="1.95"/><circle cx="319.1" cy="929.2" r="1.95"/><circle cx="333.7" cy="943.0" r="1.95"/><circle cx="261.4" cy="940.3" r="1.95"/><circle cx="362.7" cy="940.9" r="1.95"/><circle cx="246.9" cy="937.7" r="1.95"/><circle cx="246.0" cy="952.4" r="1.95"/><circle cx="240.2" cy="954.1" r="1.95"/><circle cx="341.5" cy="954.2" r="1.95"/><circle cx="311.9" cy="953.7" r="1.95"/><circle cx="319.2" cy="955.6" r="1.95"/><circle cx="222.6" cy="951.9" r="1.95"/><circle cx="198.4" cy="950.9" r="1.95"/><circle cx="210.9" cy="955.7" r="1.95"/><circle cx="401.1" cy="917.7" r="1.95"/><circle cx="327.7" cy="939.9" r="1.95"/><circle cx="245.9" cy="953.3" r="1.95"/><circle cx="336.5" cy="935.9" r="1.95"/><circle cx="311.3" cy="942.2" r="1.95"/><circle cx="308.9" cy="930.9" r="1.95"/><circle cx="387.7" cy="940.4" r="1.95"/><circle cx="164.9" cy="951.3" r="1.95"/><circle cx="251.4" cy="949.3" r="1.95"/><circle cx="278.1" cy="946.7" r="1.95"/><circle cx="258.4" cy="939.7" r="1.95"/><circle cx="248.6" cy="949.8" r="1.95"/><circle cx="354.0" cy="940.8" r="1.95"/><circle cx="262.3" cy="953.9" r="1.95"/><circle cx="305.7" cy="933.8" r="1.95"/><circle cx="181.1" cy="940.5" r="1.95"/><circle cx="151.5" cy="946.0" r="1.95"/><circle cx="349.2" cy="926.3" r="1.95"/><circle cx="280.0" cy="933.5" r="1.95"/><circle cx="393.6" cy="941.8" r="1.95"/><circle cx="264.8" cy="950.7" r="1.95"/><circle cx="360.1" cy="923.7" r="1.95"/><circle cx="291.7" cy="951.4" r="1.95"/><circle cx="271.3" cy="939.9" r="1.95"/><circle cx="298.6" cy="935.9" r="1.95"/><circle cx="326.4" cy="929.9" r="1.95"/><circle cx="174.8" cy="948.4" r="1.95"/><circle cx="304.3" cy="944.6" r="1.95"/><circle cx="318.1" cy="934.1" r="1.95"/><circle cx="317.7" cy="937.9" r="1.95"/><circle cx="340.4" cy="950.1" r="1.95"/><circle cx="219.8" cy="952.0" r="1.95"/><circle cx="248.0" cy="941.1" r="1.95"/><circle cx="346.5" cy="947.2" r="1.95"/><circle cx="380.2" cy="949.9" r="1.95"/><circle cx="335.7" cy="927.8" r="1.95"/><circle cx="369.4" cy="922.5" r="1.95"/><circle cx="369.7" cy="955.2" r="1.95"/><circle cx="378.7" cy="924.4" r="1.95"/><circle cx="272.9" cy="932.7" r="1.95"/><circle cx="259.2" cy="937.3" r="1.95"/><circle cx="389.8" cy="952.3" r="1.95"/><circle cx="357.8" cy="952.3" r="1.95"/><circle cx="277.3" cy="942.4" r="1.95"/><circle cx="227.3" cy="947.2" r="1.95"/><circle cx="309.9" cy="945.5" r="1.95"/><circle cx="309.5" cy="931.5" r="1.95"/><circle cx="304.0" cy="937.0" r="1.95"/><circle cx="158.1" cy="953.6" r="1.95"/><circle cx="157.7" cy="949.8" r="1.95"/><circle cx="149.2" cy="944.5" r="1.95"/><circle cx="269.7" cy="938.4" r="1.95"/><circle cx="286.5" cy="944.3" r="1.95"/><circle cx="251.2" cy="940.3" r="1.95"/><circle cx="249.0" cy="955.3" r="1.95"/><circle cx="250.0" cy="948.7" r="1.95"/><circle cx="307.2" cy="950.6" r="1.95"/><circle cx="233.5" cy="937.8" r="1.95"/><circle cx="319.6" cy="929.1" r="1.95"/><circle cx="351.7" cy="951.6" r="1.95"/><circle cx="338.8" cy="933.8" r="1.95"/><circle cx="294.2" cy="943.2" r="1.95"/><circle cx="303.3" cy="943.5" r="1.95"/><circle cx="365.4" cy="927.7" r="1.95"/><circle cx="232.3" cy="942.3" r="1.95"/><circle cx="352.0" cy="929.2" r="1.95"/><circle cx="364.1" cy="931.8" r="1.95"/><circle cx="297.5" cy="941.9" r="1.95"/><circle cx="334.0" cy="941.5" r="1.95"/><circle cx="231.9" cy="949.7" r="1.95"/><circle cx="187.9" cy="950.1" r="1.95"/><circle cx="227.1" cy="938.3" r="1.95"/><circle cx="251.8" cy="944.0" r="1.95"/><circle cx="272.6" cy="942.7" r="1.95"/><circle cx="310.0" cy="950.3" r="1.95"/><circle cx="261.5" cy="940.7" r="1.95"/><circle cx="188.8" cy="951.6" r="1.95"/><circle cx="279.2" cy="953.0" r="1.95"/><circle cx="284.7" cy="950.9" r="1.95"/><circle cx="281.4" cy="937.9" r="1.95"/><circle cx="283.3" cy="942.6" r="1.95"/><circle cx="299.4" cy="931.5" r="1.95"/><circle cx="198.8" cy="951.5" r="1.95"/><circle cx="286.8" cy="948.6" r="1.95"/><circle cx="276.8" cy="947.7" r="1.95"/><circle cx="281.0" cy="952.4" r="1.95"/><circle cx="233.3" cy="952.3" r="1.95"/><circle cx="248.7" cy="954.0" r="1.95"/><circle cx="283.4" cy="952.2" r="1.95"/><circle cx="260.0" cy="946.7" r="1.95"/><circle cx="159.7" cy="955.3" r="1.95"/><circle cx="196.6" cy="945.7" r="1.95"/><circle cx="331.1" cy="949.6" r="1.95"/><circle cx="196.2" cy="951.9" r="1.95"/><circle cx="228.7" cy="936.7" r="1.95"/><circle cx="210.0" cy="943.9" r="1.95"/><circle cx="279.7" cy="953.5" r="1.95"/><circle cx="361.4" cy="938.5" r="1.95"/><circle cx="303.7" cy="929.0" r="1.95"/><circle cx="330.0" cy="953.9" r="1.95"/><circle cx="257.0" cy="943.4" r="1.95"/><circle cx="308.4" cy="950.9" r="1.95"/><circle cx="378.1" cy="933.8" r="1.95"/><circle cx="305.6" cy="930.0" r="1.95"/><circle cx="346.2" cy="950.5" r="1.95"/><circle cx="196.7" cy="949.6" r="1.95"/><circle cx="264.8" cy="953.9" r="1.95"/><circle cx="330.9" cy="925.2" r="1.95"/><circle cx="306.2" cy="929.1" r="1.95"/><circle cx="185.7" cy="954.4" r="1.95"/><circle cx="147.5" cy="947.8" r="1.95"/><circle cx="275.8" cy="945.7" r="1.95"/><circle cx="335.7" cy="948.4" r="1.95"/><circle cx="279.0" cy="938.5" r="1.95"/><circle cx="331.7" cy="952.6" r="1.95"/><circle cx="230.2" cy="947.3" r="1.95"/><circle cx="371.7" cy="942.2" r="1.95"/><circle cx="152.8" cy="943.4" r="1.95"/><circle cx="301.3" cy="949.3" r="1.95"/><circle cx="188.8" cy="947.3" r="1.95"/><circle cx="272.7" cy="948.1" r="1.95"/><circle cx="220.3" cy="949.9" r="1.95"/><circle cx="245.4" cy="937.3" r="1.95"/><circle cx="195.7" cy="944.4" r="1.95"/><circle cx="264.3" cy="955.5" r="1.95"/><circle cx="338.2" cy="943.8" r="1.95"/><circle cx="204.8" cy="953.6" r="1.95"/><circle cx="229.9" cy="939.4" r="1.95"/><circle cx="281.5" cy="931.3" r="1.95"/><circle cx="309.4" cy="931.6" r="1.95"/><circle cx="209.8" cy="939.1" r="1.95"/><circle cx="294.5" cy="934.1" r="1.95"/><circle cx="245.8" cy="947.8" r="1.95"/><circle cx="234.5" cy="940.8" r="1.95"/><circle cx="190.6" cy="953.1" r="1.95"/><circle cx="337.4" cy="951.7" r="1.95"/><circle cx="191.3" cy="947.1" r="1.95"/><circle cx="390.6" cy="930.0" r="1.95"/><circle cx="266.7" cy="936.3" r="1.95"/><circle cx="333.1" cy="926.2" r="1.95"/><circle cx="375.1" cy="948.9" r="1.95"/><circle cx="174.6" cy="941.1" r="1.95"/><circle cx="247.7" cy="944.2" r="1.95"/><circle cx="317.5" cy="949.3" r="1.95"/><circle cx="261.3" cy="954.3" r="1.95"/><circle cx="347.3" cy="950.1" r="1.95"/><circle cx="193.2" cy="943.9" r="1.95"/><circle cx="304.5" cy="946.7" r="1.95"/><circle cx="341.4" cy="946.1" r="1.95"/><circle cx="212.4" cy="940.1" r="1.95"/><circle cx="300.8" cy="933.3" r="1.95"/><circle cx="236.6" cy="941.6" r="1.95"/><circle cx="272.1" cy="946.1" r="1.95"/><circle cx="178.4" cy="951.7" r="1.95"/><circle cx="290.5" cy="941.5" r="1.95"/><circle cx="282.0" cy="935.8" r="1.95"/><circle cx="248.3" cy="953.4" r="1.95"/><circle cx="384.6" cy="920.6" r="1.95"/><circle cx="375.6" cy="920.8" r="1.95"/><circle cx="193.4" cy="948.8" r="1.95"/><circle cx="230.2" cy="942.7" r="1.95"/><circle cx="360.1" cy="925.7" r="1.95"/><circle cx="241.2" cy="946.1" r="1.95"/><circle cx="218.0" cy="950.6" r="1.95"/><circle cx="288.3" cy="940.4" r="1.95"/><circle cx="296.8" cy="945.2" r="1.95"/><circle cx="335.1" cy="930.1" r="1.95"/><circle cx="355.2" cy="950.7" r="1.95"/><circle cx="213.2" cy="946.4" r="1.95"/><circle cx="325.0" cy="939.4" r="1.95"/><circle cx="300.0" cy="954.9" r="1.95"/><circle cx="235.6" cy="950.9" r="1.95"/><circle cx="359.5" cy="935.8" r="1.95"/><circle cx="292.7" cy="939.1" r="1.95"/><circle cx="410.6" cy="933.6" r="1.95"/><circle cx="216.2" cy="940.3" r="1.95"/><circle cx="318.8" cy="942.1" r="1.95"/><circle cx="218.7" cy="942.7" r="1.95"/><circle cx="222.4" cy="953.3" r="1.95"/><circle cx="221.3" cy="940.2" r="1.95"/><circle cx="264.8" cy="950.4" r="1.95"/><circle cx="287.8" cy="935.4" r="1.95"/><circle cx="349.4" cy="947.6" r="1.95"/><circle cx="215.1" cy="946.1" r="1.95"/><circle cx="385.9" cy="935.0" r="1.95"/><circle cx="255.9" cy="942.9" r="1.95"/><circle cx="333.1" cy="947.5" r="1.95"/><circle cx="301.8" cy="954.6" r="1.95"/><circle cx="277.1" cy="953.1" r="1.95"/><circle cx="210.0" cy="948.8" r="1.95"/><circle cx="186.0" cy="943.0" r="1.95"/><circle cx="294.5" cy="953.6" r="1.95"/><circle cx="275.1" cy="936.2" r="1.95"/><circle cx="322.1" cy="944.4" r="1.95"/><circle cx="318.6" cy="935.7" r="1.95"/><circle cx="167.7" cy="946.8" r="1.95"/><circle cx="266.4" cy="947.0" r="1.95"/><circle cx="296.5" cy="950.4" r="1.95"/><circle cx="289.7" cy="942.7" r="1.95"/><circle cx="347.0" cy="953.5" r="1.95"/><circle cx="232.7" cy="943.6" r="1.95"/><circle cx="295.3" cy="940.9" r="1.95"/><circle cx="342.4" cy="926.7" r="1.95"/><circle cx="340.2" cy="924.2" r="1.95"/><circle cx="191.3" cy="950.1" r="1.95"/><circle cx="302.4" cy="953.7" r="1.95"/><circle cx="364.6" cy="949.9" r="1.95"/><circle cx="271.2" cy="947.5" r="1.95"/><circle cx="270.2" cy="946.7" r="1.95"/><circle cx="269.2" cy="938.6" r="1.95"/><circle cx="342.2" cy="945.7" r="1.95"/><circle cx="400.4" cy="936.3" r="1.95"/><circle cx="250.8" cy="935.0" r="1.95"/><circle cx="399.9" cy="939.4" r="1.95"/><circle cx="378.6" cy="935.1" r="1.95"/><circle cx="292.4" cy="944.6" r="1.95"/><circle cx="197.6" cy="943.5" r="1.95"/><circle cx="330.8" cy="929.6" r="1.95"/><circle cx="168.4" cy="949.8" r="1.95"/><circle cx="354.2" cy="939.1" r="1.95"/><circle cx="224.0" cy="951.3" r="1.95"/><circle cx="216.8" cy="945.4" r="1.95"/><circle cx="145.7" cy="948.2" r="1.95"/><circle cx="304.9" cy="935.1" r="1.95"/><circle cx="233.0" cy="939.2" r="1.95"/><circle cx="254.2" cy="952.8" r="1.95"/><circle cx="353.7" cy="935.3" r="1.95"/><circle cx="220.3" cy="945.1" r="1.95"/><circle cx="299.4" cy="934.6" r="1.95"/><circle cx="267.9" cy="941.2" r="1.95"/><circle cx="368.8" cy="939.3" r="1.95"/><circle cx="357.4" cy="934.4" r="1.95"/><circle cx="309.5" cy="929.4" r="1.95"/><circle cx="340.7" cy="951.6" r="1.95"/><circle cx="170.8" cy="955.5" r="1.95"/><circle cx="318.0" cy="931.9" r="1.95"/><circle cx="384.7" cy="935.2" r="1.95"/><circle cx="295.9" cy="932.2" r="1.95"/><circle cx="381.3" cy="937.7" r="1.95"/><circle cx="349.7" cy="935.2" r="1.95"/><circle cx="320.0" cy="929.3" r="1.95"/><circle cx="310.7" cy="944.9" r="1.95"/><circle cx="360.5" cy="930.8" r="1.95"/><circle cx="288.9" cy="945.7" r="1.95"/><circle cx="283.0" cy="934.0" r="1.95"/><circle cx="263.8" cy="953.6" r="1.95"/><circle cx="351.1" cy="954.8" r="1.95"/><circle cx="261.6" cy="935.2" r="1.95"/><circle cx="224.1" cy="954.6" r="1.95"/><circle cx="267.4" cy="938.2" r="1.95"/><circle cx="309.3" cy="932.5" r="1.95"/><circle cx="281.2" cy="954.8" r="1.95"/><circle cx="228.5" cy="942.2" r="1.95"/><circle cx="143.4" cy="948.5" r="1.95"/><circle cx="157.3" cy="949.5" r="1.95"/><circle cx="415.9" cy="914.4" r="1.95"/><circle cx="348.6" cy="946.7" r="1.95"/><circle cx="241.4" cy="952.1" r="1.95"/><circle cx="382.5" cy="941.1" r="1.95"/><circle cx="240.9" cy="936.1" r="1.95"/><circle cx="252.6" cy="945.5" r="1.95"/><circle cx="320.3" cy="940.2" r="1.95"/><circle cx="331.2" cy="941.1" r="1.95"/><circle cx="234.2" cy="954.9" r="1.95"/><circle cx="301.4" cy="943.2" r="1.95"/><circle cx="229.6" cy="946.9" r="1.95"/><circle cx="281.1" cy="949.3" r="1.95"/><circle cx="357.1" cy="940.3" r="1.95"/><circle cx="160.6" cy="954.1" r="1.95"/><circle cx="177.8" cy="951.8" r="1.95"/><circle cx="376.7" cy="950.6" r="1.95"/><circle cx="285.4" cy="950.4" r="1.95"/><circle cx="193.8" cy="943.5" r="1.95"/><circle cx="284.8" cy="954.3" r="1.95"/><circle cx="344.5" cy="941.2" r="1.95"/><circle cx="385.0" cy="928.0" r="1.95"/><circle cx="201.4" cy="939.7" r="1.95"/><circle cx="320.8" cy="936.6" r="1.95"/><circle cx="373.1" cy="934.6" r="1.95"/><circle cx="341.8" cy="924.8" r="1.95"/><circle cx="183.1" cy="954.3" r="1.95"/><circle cx="303.4" cy="952.4" r="1.95"/><circle cx="244.4" cy="952.6" r="1.95"/><circle cx="285.4" cy="952.6" r="1.95"/><circle cx="244.1" cy="945.4" r="1.95"/><circle cx="353.0" cy="950.8" r="1.95"/><circle cx="278.4" cy="938.8" r="1.95"/><circle cx="353.2" cy="929.6" r="1.95"/><circle cx="206.3" cy="950.5" r="1.95"/><circle cx="168.8" cy="942.2" r="1.95"/><circle cx="229.5" cy="931.3" r="1.95"/><circle cx="251.9" cy="932.0" r="1.95"/><circle cx="213.3" cy="930.5" r="1.95"/><circle cx="324.0" cy="936.0" r="1.95"/><circle cx="279.0" cy="934.4" r="1.95"/><circle cx="212.9" cy="934.4" r="1.95"/><circle cx="382.2" cy="918.6" r="1.95"/><circle cx="374.8" cy="906.7" r="1.95"/><circle cx="296.7" cy="921.6" r="1.95"/><circle cx="298.8" cy="938.0" r="1.95"/><circle cx="363.7" cy="927.4" r="1.95"/><circle cx="343.2" cy="932.0" r="1.95"/><circle cx="393.7" cy="938.2" r="1.95"/><circle cx="389.4" cy="936.7" r="1.95"/><circle cx="326.7" cy="936.7" r="1.95"/><circle cx="275.3" cy="932.7" r="1.95"/><circle cx="385.5" cy="896.8" r="1.95"/><circle cx="378.0" cy="924.9" r="1.95"/><circle cx="376.3" cy="898.8" r="1.95"/><circle cx="373.3" cy="927.1" r="1.95"/><circle cx="311.7" cy="938.3" r="1.95"/><circle cx="405.3" cy="936.6" r="1.95"/><circle cx="298.0" cy="926.0" r="1.95"/><circle cx="355.3" cy="935.9" r="1.95"/><circle cx="374.1" cy="924.7" r="1.95"/><circle cx="246.9" cy="938.8" r="1.95"/><circle cx="344.5" cy="937.5" r="1.95"/><circle cx="290.5" cy="938.8" r="1.95"/><circle cx="356.4" cy="909.3" r="1.95"/><circle cx="281.3" cy="924.8" r="1.95"/><circle cx="245.7" cy="932.4" r="1.95"/><circle cx="377.4" cy="933.3" r="1.95"/><circle cx="331.5" cy="937.3" r="1.95"/><circle cx="396.2" cy="938.6" r="1.95"/><circle cx="379.9" cy="904.6" r="1.95"/><circle cx="398.2" cy="938.0" r="1.95"/><circle cx="398.7" cy="937.6" r="1.95"/><circle cx="232.5" cy="931.6" r="1.95"/><circle cx="381.7" cy="897.0" r="1.95"/><circle cx="353.0" cy="933.1" r="1.95"/><circle cx="330.8" cy="917.3" r="1.95"/><circle cx="394.1" cy="936.5" r="1.95"/><circle cx="351.6" cy="938.8" r="1.95"/><circle cx="246.9" cy="927.9" r="1.95"/><circle cx="400.8" cy="894.5" r="1.95"/><circle cx="350.6" cy="936.0" r="1.95"/><circle cx="335.0" cy="907.9" r="1.95"/><circle cx="278.5" cy="925.9" r="1.95"/><circle cx="350.9" cy="924.0" r="1.95"/><circle cx="329.2" cy="935.4" r="1.95"/><circle cx="376.3" cy="899.2" r="1.95"/><circle cx="318.8" cy="915.0" r="1.95"/><circle cx="354.4" cy="938.5" r="1.95"/><circle cx="335.1" cy="918.2" r="1.95"/><circle cx="374.6" cy="926.1" r="1.95"/><circle cx="384.3" cy="891.5" r="1.95"/><circle cx="392.7" cy="927.5" r="1.95"/><circle cx="395.5" cy="931.0" r="1.95"/><circle cx="355.9" cy="929.0" r="1.95"/><circle cx="358.3" cy="923.9" r="1.95"/><circle cx="224.3" cy="928.8" r="1.95"/><circle cx="244.0" cy="936.9" r="1.95"/><circle cx="201.6" cy="938.5" r="1.95"/><circle cx="258.5" cy="938.7" r="1.95"/><circle cx="245.3" cy="935.0" r="1.95"/><circle cx="282.8" cy="936.8" r="1.95"/><circle cx="200.6" cy="938.6" r="1.95"/><circle cx="276.5" cy="938.4" r="1.95"/><circle cx="389.4" cy="909.7" r="1.95"/><circle cx="286.5" cy="938.9" r="1.95"/><circle cx="271.4" cy="938.9" r="1.95"/><circle cx="370.4" cy="938.6" r="1.95"/><circle cx="369.6" cy="906.7" r="1.95"/><circle cx="226.0" cy="928.3" r="1.95"/><circle cx="377.8" cy="927.3" r="1.95"/><circle cx="400.6" cy="933.0" r="1.95"/><circle cx="375.3" cy="894.6" r="1.95"/><circle cx="277.1" cy="934.2" r="1.95"/><circle cx="352.6" cy="920.2" r="1.95"/><circle cx="374.7" cy="928.5" r="1.95"/><circle cx="225.8" cy="935.7" r="1.95"/><circle cx="356.8" cy="935.1" r="1.95"/><circle cx="205.1" cy="938.8" r="1.95"/><circle cx="270.4" cy="923.1" r="1.95"/><circle cx="344.1" cy="938.3" r="1.95"/><circle cx="398.6" cy="935.2" r="1.95"/><circle cx="336.9" cy="937.0" r="1.95"/><circle cx="342.5" cy="936.2" r="1.95"/><circle cx="406.4" cy="927.4" r="1.95"/><circle cx="216.7" cy="937.2" r="1.95"/><circle cx="364.7" cy="935.3" r="1.95"/><circle cx="261.7" cy="932.1" r="1.95"/><circle cx="334.8" cy="934.4" r="1.95"/><circle cx="322.3" cy="931.1" r="1.95"/><circle cx="368.2" cy="937.9" r="1.95"/><circle cx="237.2" cy="928.9" r="1.95"/><circle cx="236.9" cy="929.8" r="1.95"/><circle cx="362.3" cy="911.0" r="1.95"/><circle cx="263.1" cy="935.8" r="1.95"/><circle cx="359.7" cy="927.5" r="1.95"/><circle cx="246.8" cy="935.2" r="1.95"/><circle cx="391.6" cy="907.1" r="1.95"/><circle cx="372.1" cy="897.9" r="1.95"/><circle cx="373.5" cy="932.0" r="1.95"/><circle cx="338.6" cy="908.2" r="1.95"/><circle cx="372.6" cy="938.9" r="1.95"/><circle cx="310.2" cy="937.9" r="1.95"/><circle cx="307.1" cy="916.2" r="1.95"/><circle cx="303.0" cy="914.6" r="1.95"/><circle cx="204.5" cy="935.0" r="1.95"/><circle cx="346.9" cy="922.2" r="1.95"/><circle cx="209.0" cy="935.7" r="1.95"/><circle cx="338.1" cy="924.1" r="1.95"/><circle cx="320.6" cy="918.2" r="1.95"/><circle cx="327.5" cy="910.7" r="1.95"/><circle cx="349.9" cy="918.4" r="1.95"/><circle cx="383.9" cy="938.0" r="1.95"/><circle cx="384.6" cy="930.4" r="1.95"/><circle cx="385.9" cy="900.9" r="1.95"/><circle cx="327.4" cy="928.0" r="1.95"/><circle cx="406.2" cy="886.4" r="1.95"/><circle cx="352.8" cy="907.1" r="1.95"/><circle cx="339.3" cy="924.1" r="1.95"/><circle cx="337.9" cy="929.9" r="1.95"/><circle cx="340.2" cy="913.4" r="1.95"/><circle cx="386.4" cy="938.1" r="1.95"/><circle cx="348.5" cy="918.2" r="1.95"/><circle cx="351.7" cy="903.8" r="1.95"/><circle cx="227.2" cy="930.0" r="1.95"/><circle cx="329.9" cy="937.6" r="1.95"/><circle cx="275.9" cy="933.2" r="1.95"/><circle cx="363.0" cy="923.2" r="1.95"/><circle cx="267.7" cy="938.4" r="1.95"/><circle cx="296.6" cy="935.0" r="1.95"/><circle cx="328.0" cy="937.0" r="1.95"/><circle cx="336.2" cy="866.0" r="1.95"/><circle cx="381.4" cy="862.8" r="1.95"/><circle cx="382.6" cy="866.8" r="1.95"/><circle cx="384.8" cy="877.9" r="1.95"/><circle cx="367.5" cy="886.5" r="1.95"/><circle cx="374.0" cy="891.5" r="1.95"/><circle cx="384.8" cy="887.5" r="1.95"/><circle cx="386.3" cy="891.5" r="1.95"/><circle cx="387.3" cy="896.2" r="1.95"/><circle cx="376.9" cy="897.7" r="1.95"/><circle cx="377.4" cy="902.6" r="1.95"/><circle cx="388.5" cy="900.6" r="1.95"/><circle cx="391.2" cy="902.6" r="1.95"/><circle cx="351.0" cy="898.1" r="1.95"/><circle cx="338.6" cy="901.1" r="1.95"/><circle cx="350.2" cy="906.3" r="1.95"/><circle cx="342.3" cy="908.8" r="1.95"/><circle cx="406.5" cy="859.4" r="1.95"/><circle cx="411.5" cy="859.4" r="1.95"/><circle cx="427.0" cy="860.6" r="1.95"/><circle cx="453.0" cy="859.9" r="1.95"/><circle cx="408.5" cy="872.2" r="1.95"/><circle cx="404.6" cy="875.4" r="1.95"/><circle cx="411.0" cy="877.2" r="1.95"/><circle cx="414.7" cy="882.1" r="1.95"/><circle cx="415.2" cy="886.3" r="1.95"/><circle cx="418.9" cy="886.3" r="1.95"/><circle cx="412.2" cy="890.7" r="1.95"/><circle cx="406.5" cy="894.0" r="1.95"/><circle cx="418.9" cy="895.7" r="1.95"/><circle cx="425.8" cy="894.4" r="1.95"/><circle cx="425.1" cy="901.4" r="1.95"/><circle cx="430.5" cy="908.0" r="1.95"/><circle cx="421.9" cy="914.7" r="1.95"/><circle cx="426.8" cy="914.7" r="1.95"/><circle cx="427.5" cy="917.2" r="1.95"/><circle cx="422.6" cy="923.6" r="1.95"/><circle cx="430.5" cy="923.3" r="1.95"/><circle cx="416.9" cy="928.5" r="1.95"/><circle cx="440.4" cy="935.7" r="1.95"/><circle cx="443.6" cy="921.1" r="1.95"/><circle cx="444.8" cy="913.7" r="1.95"/><circle cx="442.3" cy="910.5" r="1.95"/><circle cx="437.9" cy="877.7" r="1.95"/><circle cx="446.0" cy="882.1" r="1.95"/><circle cx="451.0" cy="880.1" r="1.95"/><circle cx="463.3" cy="879.6" r="1.95"/><circle cx="469.5" cy="878.9" r="1.95"/><circle cx="442.3" cy="889.5" r="1.95"/><circle cx="448.5" cy="892.7" r="1.95"/><circle cx="446.0" cy="897.4" r="1.95"/><circle cx="459.6" cy="894.9" r="1.95"/><circle cx="470.2" cy="896.9" r="1.95"/><circle cx="463.3" cy="901.4" r="1.95"/><circle cx="482.3" cy="881.4" r="1.95"/><circle cx="489.8" cy="915.2" r="1.95"/><circle cx="399.4" cy="846.9" r="1.95"/><circle cx="418.4" cy="850.4" r="1.95"/><circle cx="396.9" cy="857.5" r="1.95"/><circle cx="406.0" cy="859.3" r="1.95"/><circle cx="412.2" cy="859.3" r="1.95"/><circle cx="453.0" cy="859.5" r="1.95"/><circle cx="510.4" cy="864.2" r="1.95"/><circle cx="510.1" cy="886.7" r="1.95"/><circle cx="482.0" cy="881.7" r="1.95"/><circle cx="336.0" cy="865.8" r="1.95"/><circle cx="329.2" cy="888.1" r="1.95"/><circle cx="326.6" cy="897.5" r="1.95"/><circle cx="332.6" cy="898.8" r="1.95"/><circle cx="320.8" cy="899.3" r="1.95"/><circle cx="299.3" cy="904.6" r="1.95"/><circle cx="305.6" cy="907.2" r="1.95"/><circle cx="295.9" cy="909.3" r="1.95"/><circle cx="279.7" cy="915.9" r="1.95"/><circle cx="276.2" cy="919.6" r="1.95"/><circle cx="199.6" cy="919.8" r="1.95"/><circle cx="199.4" cy="923.0" r="1.95"/><circle cx="217.2" cy="921.6" r="1.95"/><circle cx="263.1" cy="925.1" r="1.95"/><circle cx="254.7" cy="928.2" r="1.95"/><circle cx="193.1" cy="929.5" r="1.95"/><circle cx="202.8" cy="930.3" r="1.95"/><circle cx="218.0" cy="932.7" r="1.95"/><circle cx="235.1" cy="930.8" r="1.95"/><circle cx="139.5" cy="945.0" r="1.95"/><circle cx="141.0" cy="949.0" r="1.95"/><circle cx="144.5" cy="953.5" r="1.95"/><circle cx="149.0" cy="950.5" r="1.95"/><circle cx="154.0" cy="950.0" r="1.95"/><circle cx="158.0" cy="948.5" r="1.95"/><circle cx="161.0" cy="950.0" r="1.95"/>
</g>
<g fill="#7b7b7b" stroke="#2e2e2e" stroke-width="1">
<circle cx="421.4" cy="852.0" r="2.05"/><circle cx="446.1" cy="852.0" r="2.05"/><circle cx="465.2" cy="854.2" r="2.05"/><circle cx="488.2" cy="852.0" r="2.05"/><circle cx="400.4" cy="857.2" r="2.05"/><circle cx="440.4" cy="862.3" r="2.05"/><circle cx="449.8" cy="866.5" r="2.05"/><circle cx="456.7" cy="869.8" r="2.05"/><circle cx="399.9" cy="871.5" r="2.05"/><circle cx="483.8" cy="877.9" r="2.05"/><circle cx="435.7" cy="882.1" r="2.05"/><circle cx="430.7" cy="885.3" r="2.05"/><circle cx="441.6" cy="884.6" r="2.05"/><circle cx="450.5" cy="885.8" r="2.05"/><circle cx="400.9" cy="890.7" r="2.05"/><circle cx="429.5" cy="892.0" r="2.05"/><circle cx="412.7" cy="898.1" r="2.05"/><circle cx="479.9" cy="896.3" r="2.05"/><circle cx="418.1" cy="906.3" r="2.05"/><circle cx="419.4" cy="910.0" r="2.05"/><circle cx="440.4" cy="906.8" r="2.05"/><circle cx="467.0" cy="909.8" r="2.05"/><circle cx="416.4" cy="917.2" r="2.05"/><circle cx="429.5" cy="928.5" r="2.05"/><circle cx="360.4" cy="907.3" r="2.05"/><circle cx="357.7" cy="910.5" r="2.05"/><circle cx="367.5" cy="909.8" r="2.05"/><circle cx="340.4" cy="922.3" r="2.05"/><circle cx="354.7" cy="928.3" r="2.05"/><circle cx="360.9" cy="932.0" r="2.05"/><circle cx="346.0" cy="933.2" r="2.05"/><circle cx="378.1" cy="923.6" r="2.05"/><circle cx="383.8" cy="931.0" r="2.05"/><circle cx="524.5" cy="773.6" r="2.05"/><circle cx="490.7" cy="793.4" r="2.05"/><circle cx="513.0" cy="808.5" r="2.05"/><circle cx="466.0" cy="811.9" r="2.05"/><circle cx="524.5" cy="821.3" r="2.05"/><circle cx="480.3" cy="822.8" r="2.05"/><circle cx="474.4" cy="825.4" r="2.05"/><circle cx="397.4" cy="831.6" r="2.05"/><circle cx="394.4" cy="834.8" r="2.05"/><circle cx="443.6" cy="832.1" r="2.05"/><circle cx="448.5" cy="836.8" r="2.05"/><circle cx="468.5" cy="835.3" r="2.05"/><circle cx="431.2" cy="841.0" r="2.05"/><circle cx="463.8" cy="841.5" r="2.05"/><circle cx="477.7" cy="844.7" r="2.05"/><circle cx="487.5" cy="845.6" r="2.05"/><circle cx="487.7" cy="848.4" r="2.05"/><circle cx="500.2" cy="846.8" r="2.05"/><circle cx="548.0" cy="847.5" r="2.05"/><circle cx="409.0" cy="847.2" r="2.05"/><circle cx="465.3" cy="850.4" r="2.05"/><circle cx="532.8" cy="725.4" r="2.05"/><circle cx="564.5" cy="752.5" r="2.05"/><circle cx="611.1" cy="745.9" r="2.05"/><circle cx="571.4" cy="842.0" r="2.05"/><circle cx="532.6" cy="870.1" r="2.05"/><circle cx="503.5" cy="873.8" r="2.05"/><circle cx="494.3" cy="874.8" r="2.05"/><circle cx="530.4" cy="894.8" r="2.05"/><circle cx="509.6" cy="895.6" r="2.05"/><circle cx="502.2" cy="902.0" r="2.05"/><circle cx="496.3" cy="903.2" r="2.05"/><circle cx="194.4" cy="924.5" r="2.05"/><circle cx="272.0" cy="934.2" r="2.05"/>
</g>
<text x="86.90" y="695.55" font-size="14.6" fill="#000" textLength="468.30" lengthAdjust="spacingAndGlyphs">Screening Males for High Visceral Fat Using Percent Body Fat Cut-Offs</text>
<text x="48.40" y="976.6" font-size="10.6" text-anchor="middle" letter-spacing="0.25">0%</text>
<text x="106.94" y="976.6" font-size="10.6" text-anchor="middle" letter-spacing="0.25">5%</text>
<text x="165.48" y="976.6" font-size="10.6" text-anchor="middle" letter-spacing="0.25">10%</text>
<text x="224.02" y="976.6" font-size="10.6" text-anchor="middle" letter-spacing="0.25">15%</text>
<text x="282.56" y="976.6" font-size="10.6" text-anchor="middle" letter-spacing="0.25">20%</text>
<text x="341.10" y="976.6" font-size="10.6" text-anchor="middle" letter-spacing="0.25">25%</text>
<text x="399.64" y="976.6" font-size="10.6" text-anchor="middle" letter-spacing="0.25">30%</text>
<text x="458.18" y="976.6" font-size="10.6" text-anchor="middle" letter-spacing="0.25">35%</text>
<text x="516.72" y="976.6" font-size="10.6" text-anchor="middle" letter-spacing="0.25">40%</text>
<text x="575.26" y="976.6" font-size="10.6" text-anchor="middle" letter-spacing="0.25">45%</text>
<text x="633.80" y="976.6" font-size="10.6" text-anchor="middle" letter-spacing="0.25">50%</text>
<text x="36.2" y="959.80" font-size="10.6" text-anchor="end">0</text>
<text x="36.2" y="918.30" font-size="10.6" text-anchor="end">1</text>
<text x="36.2" y="876.80" font-size="10.6" text-anchor="end">2</text>
<text x="36.2" y="835.30" font-size="10.6" text-anchor="end">3</text>
<text x="36.2" y="793.80" font-size="10.6" text-anchor="end">4</text>
<text x="36.2" y="752.30" font-size="10.6" text-anchor="end">5</text>
<text x="36.2" y="710.80" font-size="10.6" text-anchor="end">6</text>
<text x="270.90" y="995.20" font-size="14.4" fill="#000" textLength="139.10" lengthAdjust="spacingAndGlyphs">Percent Body Fat (%)</text>
<text transform="translate(20.50,907.30) rotate(-90)" x="0" y="0" font-size="15.4" textLength="144.80" lengthAdjust="spacingAndGlyphs">Visceral Fat Mass (kg)</text>
<text x="226.70" y="733.30" font-size="12.1" fill="#5c5c5c" font-style="italic" textLength="101.00" lengthAdjust="spacingAndGlyphs">Sensitivity = 0.96</text>
<text x="227.20" y="750.60" font-size="12.1" fill="#5c5c5c" font-style="italic" textLength="100.50" lengthAdjust="spacingAndGlyphs">Specificity = 0.75</text>
<text x="243.20" y="768.60" font-size="12.1" fill="#5c5c5c" font-style="italic" textLength="83.70" lengthAdjust="spacingAndGlyphs">Youden = 0.71</text>
<text x="412.10" y="730.30" font-size="12.1" fill="#000" textLength="102.10" lengthAdjust="spacingAndGlyphs">Sensitivity = 0.77</text>
<text x="413.30" y="747.90" font-size="12.1" fill="#000" textLength="100.90" lengthAdjust="spacingAndGlyphs">Specificity = 0.89</text>
<text x="428.90" y="765.60" font-size="12.1" fill="#000" textLength="85.30" lengthAdjust="spacingAndGlyphs">Youden = 0.66</text>
<circle cx="71.6" cy="823.5" r="1.9" fill="#e4e4e4" stroke="#b0b0b0" stroke-width="0.8"/>
<circle cx="71.6" cy="844.0" r="1.9" fill="#7b7b7b" stroke="#2e2e2e" stroke-width="1"/>
<path d="M59.3 864.5h6.2M67.9 864.5h6.2M76.6 864.5h5.7M83.5 864.5h1.7" stroke="#494949" stroke-width="2.3" fill="none"/>
<line x1="59.3" y1="884.4" x2="79.0" y2="884.4" stroke="#1c1c1c" stroke-width="2.5"/>
<text x="85.90" y="827.30" font-size="12.1" fill="#000" textLength="96.80" lengthAdjust="spacingAndGlyphs">Low Visceral Fat</text>
<text x="85.90" y="847.70" font-size="12.1" fill="#000" textLength="99.30" lengthAdjust="spacingAndGlyphs">High Visceral Fat</text>
<text x="85.90" y="868.40" font-size="12.1" fill="#000" textLength="64.70" lengthAdjust="spacingAndGlyphs">PBF 25.4 %</text>
<text x="85.90" y="888.50" font-size="12.1" fill="#000" textLength="64.70" lengthAdjust="spacingAndGlyphs">PBF 30.0 %</text>
</g>
</svg>
</body>
</html>
